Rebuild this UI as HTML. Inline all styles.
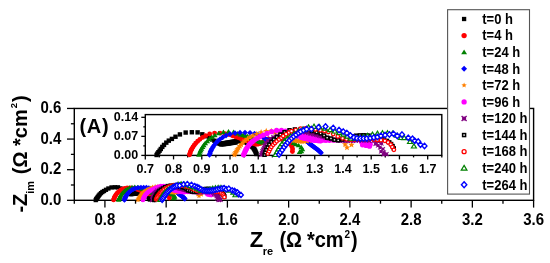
<!DOCTYPE html>
<html><head><meta charset="utf-8"><style>
html,body{margin:0;padding:0;background:#fff;}
body{width:550px;height:263px;overflow:hidden;}
svg{display:block;will-change:transform;}
</style></head><body>
<svg width="550" height="263" viewBox="0 0 550 263" font-family='"Liberation Sans", sans-serif' font-weight="bold">
<rect width="550" height="263" fill="#fff"/>
<rect x="74.3" y="108.45" width="459.3" height="91.85" fill="none" stroke="#000" stroke-width="1.4"/>
<line x1="74.3" y1="200.3" x2="74.3" y2="203.7" stroke="#000" stroke-width="1.3"/>
<line x1="104.92" y1="200.3" x2="104.92" y2="207.6" stroke="#000" stroke-width="1.3"/>
<text transform="translate(104.92,224.7) scale(1,1.12)" font-size="15" text-anchor="middle" >0.8</text>
<line x1="135.54" y1="200.3" x2="135.54" y2="203.7" stroke="#000" stroke-width="1.3"/>
<line x1="166.16" y1="200.3" x2="166.16" y2="207.6" stroke="#000" stroke-width="1.3"/>
<text transform="translate(166.16,224.7) scale(1,1.12)" font-size="15" text-anchor="middle" >1.2</text>
<line x1="196.78" y1="200.3" x2="196.78" y2="203.7" stroke="#000" stroke-width="1.3"/>
<line x1="227.4" y1="200.3" x2="227.4" y2="207.6" stroke="#000" stroke-width="1.3"/>
<text transform="translate(227.4,224.7) scale(1,1.12)" font-size="15" text-anchor="middle" >1.6</text>
<line x1="258.02" y1="200.3" x2="258.02" y2="203.7" stroke="#000" stroke-width="1.3"/>
<line x1="288.64" y1="200.3" x2="288.64" y2="207.6" stroke="#000" stroke-width="1.3"/>
<text transform="translate(288.64,224.7) scale(1,1.12)" font-size="15" text-anchor="middle" >2.0</text>
<line x1="319.26" y1="200.3" x2="319.26" y2="203.7" stroke="#000" stroke-width="1.3"/>
<line x1="349.88" y1="200.3" x2="349.88" y2="207.6" stroke="#000" stroke-width="1.3"/>
<text transform="translate(349.88,224.7) scale(1,1.12)" font-size="15" text-anchor="middle" >2.4</text>
<line x1="380.5" y1="200.3" x2="380.5" y2="203.7" stroke="#000" stroke-width="1.3"/>
<line x1="411.12" y1="200.3" x2="411.12" y2="207.6" stroke="#000" stroke-width="1.3"/>
<text transform="translate(411.12,224.7) scale(1,1.12)" font-size="15" text-anchor="middle" >2.8</text>
<line x1="441.74" y1="200.3" x2="441.74" y2="203.7" stroke="#000" stroke-width="1.3"/>
<line x1="472.36" y1="200.3" x2="472.36" y2="207.6" stroke="#000" stroke-width="1.3"/>
<text transform="translate(472.36,224.7) scale(1,1.12)" font-size="15" text-anchor="middle" >3.2</text>
<line x1="502.98" y1="200.3" x2="502.98" y2="203.7" stroke="#000" stroke-width="1.3"/>
<line x1="533.6" y1="200.3" x2="533.6" y2="207.6" stroke="#000" stroke-width="1.3"/>
<text transform="translate(533.6,224.7) scale(1,1.12)" font-size="15" text-anchor="middle" >3.6</text>
<line x1="74.3" y1="200.3" x2="67" y2="200.3" stroke="#000" stroke-width="1.3"/>
<text transform="translate(61.3,205) scale(1,1.12)" font-size="15" text-anchor="end" >0.0</text>
<line x1="74.3" y1="184.99" x2="70.9" y2="184.99" stroke="#000" stroke-width="1.3"/>
<line x1="74.3" y1="169.68" x2="67" y2="169.68" stroke="#000" stroke-width="1.3"/>
<text transform="translate(61.3,174.38) scale(1,1.12)" font-size="15" text-anchor="end" >0.2</text>
<line x1="74.3" y1="154.38" x2="70.9" y2="154.38" stroke="#000" stroke-width="1.3"/>
<line x1="74.3" y1="139.07" x2="67" y2="139.07" stroke="#000" stroke-width="1.3"/>
<text transform="translate(61.3,143.77) scale(1,1.12)" font-size="15" text-anchor="end" >0.4</text>
<line x1="74.3" y1="123.76" x2="70.9" y2="123.76" stroke="#000" stroke-width="1.3"/>
<line x1="74.3" y1="108.45" x2="67" y2="108.45" stroke="#000" stroke-width="1.3"/>
<text transform="translate(61.3,113.15) scale(1,1.12)" font-size="15" text-anchor="end" >0.6</text>
<rect x="93.59" y="197.92" width="4.3" height="4.3" fill="#000"/>
<rect x="93.99" y="197.18" width="4.3" height="4.3" fill="#000"/>
<rect x="94.57" y="196.35" width="4.3" height="4.3" fill="#000"/>
<rect x="95.21" y="195.49" width="4.3" height="4.3" fill="#000"/>
<rect x="95.86" y="194.53" width="4.3" height="4.3" fill="#000"/>
<rect x="96.68" y="193.37" width="4.3" height="4.3" fill="#000"/>
<rect x="97.61" y="192.25" width="4.3" height="4.3" fill="#000"/>
<rect x="98.84" y="190.98" width="4.3" height="4.3" fill="#000"/>
<rect x="100.21" y="189.85" width="4.3" height="4.3" fill="#000"/>
<rect x="101.88" y="188.87" width="4.3" height="4.3" fill="#000"/>
<rect x="103.83" y="187.65" width="4.3" height="4.3" fill="#000"/>
<rect x="106.23" y="186.34" width="4.3" height="4.3" fill="#000"/>
<rect x="109.35" y="185.29" width="4.3" height="4.3" fill="#000"/>
<rect x="112.7" y="185.11" width="4.3" height="4.3" fill="#000"/>
<rect x="115.82" y="185.19" width="4.3" height="4.3" fill="#000"/>
<rect x="118.36" y="186.27" width="4.3" height="4.3" fill="#000"/>
<rect x="120.63" y="187.38" width="4.3" height="4.3" fill="#000"/>
<rect x="122.24" y="188.26" width="4.3" height="4.3" fill="#000"/>
<rect x="123.73" y="189.16" width="4.3" height="4.3" fill="#000"/>
<rect x="124.96" y="189.92" width="4.3" height="4.3" fill="#000"/>
<rect x="125.98" y="190.59" width="4.3" height="4.3" fill="#000"/>
<rect x="126.74" y="191.08" width="4.3" height="4.3" fill="#000"/>
<rect x="127.46" y="191.43" width="4.3" height="4.3" fill="#000"/>
<rect x="128.12" y="191.59" width="4.3" height="4.3" fill="#000"/>
<rect x="128.73" y="191.57" width="4.3" height="4.3" fill="#000"/>
<rect x="129.32" y="191.45" width="4.3" height="4.3" fill="#000"/>
<rect x="129.92" y="191.32" width="4.3" height="4.3" fill="#000"/>
<rect x="130.57" y="191.22" width="4.3" height="4.3" fill="#000"/>
<rect x="131.24" y="191.11" width="4.3" height="4.3" fill="#000"/>
<rect x="131.93" y="190.99" width="4.3" height="4.3" fill="#000"/>
<rect x="132.61" y="190.87" width="4.3" height="4.3" fill="#000"/>
<rect x="133.3" y="190.76" width="4.3" height="4.3" fill="#000"/>
<rect x="133.98" y="190.64" width="4.3" height="4.3" fill="#000"/>
<rect x="134.67" y="190.52" width="4.3" height="4.3" fill="#000"/>
<rect x="135.33" y="190.41" width="4.3" height="4.3" fill="#000"/>
<rect x="135.97" y="190.32" width="4.3" height="4.3" fill="#000"/>
<rect x="136.57" y="190.22" width="4.3" height="4.3" fill="#000"/>
<rect x="137.37" y="190.12" width="4.3" height="4.3" fill="#000"/>
<rect x="138.21" y="190.11" width="4.3" height="4.3" fill="#000"/>
<rect x="139.1" y="190.19" width="4.3" height="4.3" fill="#000"/>
<rect x="140.02" y="190.34" width="4.3" height="4.3" fill="#000"/>
<rect x="140.93" y="190.56" width="4.3" height="4.3" fill="#000"/>
<rect x="141.86" y="190.83" width="4.3" height="4.3" fill="#000"/>
<rect x="142.77" y="191.18" width="4.3" height="4.3" fill="#000"/>
<rect x="143.61" y="191.63" width="4.3" height="4.3" fill="#000"/>
<rect x="144.4" y="192.21" width="4.3" height="4.3" fill="#000"/>
<rect x="144.94" y="192.7" width="4.3" height="4.3" fill="#000"/>
<rect x="145.43" y="193.2" width="4.3" height="4.3" fill="#000"/>
<rect x="145.86" y="193.69" width="4.3" height="4.3" fill="#000"/>
<rect x="146.33" y="194.34" width="4.3" height="4.3" fill="#000"/>
<rect x="146.64" y="194.85" width="4.3" height="4.3" fill="#000"/>
<rect x="146.94" y="195.39" width="4.3" height="4.3" fill="#000"/>
<rect x="147.23" y="196.03" width="4.3" height="4.3" fill="#000"/>
<rect x="147.51" y="196.73" width="4.3" height="4.3" fill="#000"/>
<rect x="147.75" y="197.37" width="4.3" height="4.3" fill="#000"/>
<rect x="128.5" y="191.96" width="4.3" height="4.3" fill="#000"/>
<rect x="129.21" y="191.89" width="4.3" height="4.3" fill="#000"/>
<rect x="129.95" y="191.82" width="4.3" height="4.3" fill="#000"/>
<rect x="130.73" y="191.74" width="4.3" height="4.3" fill="#000"/>
<rect x="131.44" y="191.65" width="4.3" height="4.3" fill="#000"/>
<rect x="132.12" y="191.54" width="4.3" height="4.3" fill="#000"/>
<rect x="132.79" y="191.42" width="4.3" height="4.3" fill="#000"/>
<rect x="133.47" y="191.3" width="4.3" height="4.3" fill="#000"/>
<rect x="134.16" y="191.19" width="4.3" height="4.3" fill="#000"/>
<rect x="134.93" y="191.08" width="4.3" height="4.3" fill="#000"/>
<rect x="135.7" y="190.97" width="4.3" height="4.3" fill="#000"/>
<rect x="136.34" y="190.88" width="4.3" height="4.3" fill="#000"/>
<circle cx="113.57" cy="199.96" r="2.35" fill="#f00"/>
<circle cx="113.84" cy="199.1" r="2.35" fill="#f00"/>
<circle cx="114.15" cy="198.17" r="2.35" fill="#f00"/>
<circle cx="114.47" cy="197.36" r="2.35" fill="#f00"/>
<circle cx="114.9" cy="196.53" r="2.35" fill="#f00"/>
<circle cx="115.47" cy="195.57" r="2.35" fill="#f00"/>
<circle cx="116.12" cy="194.57" r="2.35" fill="#f00"/>
<circle cx="116.95" cy="193.45" r="2.35" fill="#f00"/>
<circle cx="118.02" cy="192.32" r="2.35" fill="#f00"/>
<circle cx="119.21" cy="191.26" r="2.35" fill="#f00"/>
<circle cx="120.69" cy="190.16" r="2.35" fill="#f00"/>
<circle cx="122.33" cy="189.2" r="2.35" fill="#f00"/>
<circle cx="124.52" cy="188.27" r="2.35" fill="#f00"/>
<circle cx="127.16" cy="187.75" r="2.35" fill="#f00"/>
<circle cx="130.1" cy="187.75" r="2.35" fill="#f00"/>
<circle cx="132.82" cy="188.09" r="2.35" fill="#f00"/>
<circle cx="134.99" cy="188.57" r="2.35" fill="#f00"/>
<circle cx="136.89" cy="189.21" r="2.35" fill="#f00"/>
<circle cx="138.51" cy="189.77" r="2.35" fill="#f00"/>
<circle cx="139.87" cy="190.24" r="2.35" fill="#f00"/>
<circle cx="140.95" cy="190.62" r="2.35" fill="#f00"/>
<circle cx="142.04" cy="191" r="2.35" fill="#f00"/>
<circle cx="143.12" cy="191.39" r="2.35" fill="#f00"/>
<circle cx="143.94" cy="191.7" r="2.35" fill="#f00"/>
<circle cx="144.76" cy="192.03" r="2.35" fill="#f00"/>
<circle cx="145.62" cy="192.4" r="2.35" fill="#f00"/>
<circle cx="146.46" cy="192.78" r="2.35" fill="#f00"/>
<circle cx="147.23" cy="193.11" r="2.35" fill="#f00"/>
<circle cx="147.88" cy="193.39" r="2.35" fill="#f00"/>
<circle cx="148.61" cy="193.72" r="2.35" fill="#f00"/>
<circle cx="149.28" cy="193.94" r="2.35" fill="#f00"/>
<circle cx="149.99" cy="194.01" r="2.35" fill="#f00"/>
<circle cx="150.89" cy="193.88" r="2.35" fill="#f00"/>
<circle cx="151.8" cy="193.6" r="2.35" fill="#f00"/>
<circle cx="152.67" cy="193.21" r="2.35" fill="#f00"/>
<circle cx="153.77" cy="192.59" r="2.35" fill="#f00"/>
<circle cx="154.93" cy="191.89" r="2.35" fill="#f00"/>
<circle cx="156.18" cy="191.11" r="2.35" fill="#f00"/>
<circle cx="161.29" cy="191.35" r="2.35" fill="#f00"/>
<circle cx="164.27" cy="191.91" r="2.35" fill="#f00"/>
<circle cx="168.23" cy="194" r="2.35" fill="#f00"/>
<circle cx="169.04" cy="195.29" r="2.35" fill="#f00"/>
<circle cx="169.47" cy="196.7" r="2.35" fill="#f00"/>
<circle cx="169.36" cy="198.11" r="2.35" fill="#f00"/>
<path d="M118.72 197.34L121.47 201.84L115.97 201.84Z" fill="#008000"/>
<path d="M118.99 196.48L121.74 200.98L116.24 200.98Z" fill="#008000"/>
<path d="M119.3 195.55L122.05 200.05L116.55 200.05Z" fill="#008000"/>
<path d="M119.62 194.74L122.37 199.24L116.87 199.24Z" fill="#008000"/>
<path d="M120.05 193.9L122.8 198.4L117.3 198.4Z" fill="#008000"/>
<path d="M120.62 192.95L123.37 197.45L117.87 197.45Z" fill="#008000"/>
<path d="M121.27 191.94L124.02 196.44L118.52 196.44Z" fill="#008000"/>
<path d="M122.1 190.83L124.85 195.33L119.35 195.33Z" fill="#008000"/>
<path d="M123.17 189.7L125.92 194.2L120.42 194.2Z" fill="#008000"/>
<path d="M124.36 188.57L127.11 193.07L121.61 193.07Z" fill="#008000"/>
<path d="M125.67 187.47L128.42 191.97L122.92 191.97Z" fill="#008000"/>
<path d="M127.29 186.41L130.04 190.91L124.54 190.91Z" fill="#008000"/>
<path d="M129.44 185.3L132.19 189.8L126.69 189.8Z" fill="#008000"/>
<path d="M131.97 184.67L134.72 189.17L129.22 189.17Z" fill="#008000"/>
<path d="M134.72 184.41L137.47 188.91L131.97 188.91Z" fill="#008000"/>
<path d="M137.44 184.69L140.19 189.19L134.69 189.19Z" fill="#008000"/>
<path d="M139.62 185.44L142.37 189.94L136.87 189.94Z" fill="#008000"/>
<path d="M141.26 185.93L144.01 190.43L138.51 190.43Z" fill="#008000"/>
<path d="M142.58 186.31L145.33 190.81L139.83 190.81Z" fill="#008000"/>
<path d="M143.94 186.64L146.69 191.14L141.19 191.14Z" fill="#008000"/>
<path d="M145.07 186.96L147.82 191.46L142.32 191.46Z" fill="#008000"/>
<path d="M146.2 187.43L148.95 191.93L143.45 191.93Z" fill="#008000"/>
<path d="M147.1 187.88L149.85 192.38L144.35 192.38Z" fill="#008000"/>
<path d="M148 188.33L150.75 192.83L145.25 192.83Z" fill="#008000"/>
<path d="M148.93 188.8L151.68 193.3L146.18 193.3Z" fill="#008000"/>
<path d="M149.62 189.16L152.37 193.66L146.87 193.66Z" fill="#008000"/>
<path d="M150.29 189.49L153.04 193.99L147.54 193.99Z" fill="#008000"/>
<path d="M150.91 189.77L153.66 194.27L148.16 194.27Z" fill="#008000"/>
<path d="M151.68 190.1L154.43 194.6L148.93 194.6Z" fill="#008000"/>
<path d="M152.39 190.34L155.14 194.84L149.64 194.84Z" fill="#008000"/>
<path d="M153.17 190.4L155.92 194.9L150.42 194.9Z" fill="#008000"/>
<path d="M154.18 189.99L156.93 194.49L151.43 194.49Z" fill="#008000"/>
<path d="M155.31 189.51L158.06 194.01L152.56 194.01Z" fill="#008000"/>
<path d="M156.72 188.9L159.47 193.4L153.97 193.4Z" fill="#008000"/>
<path d="M158.26 188.4L161.01 192.9L155.51 192.9Z" fill="#008000"/>
<path d="M159.92 187.99L162.67 192.49L157.17 192.49Z" fill="#008000"/>
<path d="M161.58 187.73L164.33 192.23L158.83 192.23Z" fill="#008000"/>
<path d="M163.21 187.61L165.96 192.11L160.46 192.11Z" fill="#008000"/>
<path d="M165.03 187.69L167.78 192.19L162.28 192.19Z" fill="#008000"/>
<path d="M170.01 190.7L172.76 195.2L167.26 195.2Z" fill="#008000"/>
<path d="M171.26 191.37L174.01 195.87L168.51 195.87Z" fill="#008000"/>
<path d="M172.73 192.05L175.48 196.55L169.98 196.55Z" fill="#008000"/>
<path d="M174.14 193.12L176.89 197.62L171.39 197.62Z" fill="#008000"/>
<path d="M174.79 194.24L177.54 198.74L172.04 198.74Z" fill="#008000"/>
<path d="M174.24 195.31L176.99 199.81L171.49 199.81Z" fill="#008000"/>
<path d="M173.27 195.76L176.02 200.26L170.52 200.26Z" fill="#008000"/>
<path d="M124.42 197.14L127.24 199.96L124.42 202.78L121.6 199.96Z" fill="#00f"/>
<path d="M124.69 196.29L127.5 199.1L124.69 201.92L121.87 199.1Z" fill="#00f"/>
<path d="M124.99 195.35L127.81 198.17L124.99 200.99L122.17 198.17Z" fill="#00f"/>
<path d="M125.31 194.54L128.13 197.36L125.31 200.18L122.49 197.36Z" fill="#00f"/>
<path d="M125.74 193.71L128.56 196.53L125.74 199.35L122.92 196.53Z" fill="#00f"/>
<path d="M126.32 192.75L129.13 195.57L126.32 198.39L123.5 195.57Z" fill="#00f"/>
<path d="M126.96 191.75L129.78 194.57L126.96 197.39L124.14 194.57Z" fill="#00f"/>
<path d="M127.8 190.63L130.61 193.45L127.8 196.27L124.98 193.45Z" fill="#00f"/>
<path d="M128.87 189.5L131.68 192.32L128.87 195.14L126.05 192.32Z" fill="#00f"/>
<path d="M130.05 188.44L132.87 191.25L130.05 194.07L127.24 191.25Z" fill="#00f"/>
<path d="M131.53 187.35L134.35 190.17L131.53 192.99L128.72 190.17Z" fill="#00f"/>
<path d="M133.36 186.34L136.18 189.16L133.36 191.97L130.55 189.16Z" fill="#00f"/>
<path d="M135.58 185.46L138.4 188.28L135.58 191.1L132.77 188.28Z" fill="#00f"/>
<path d="M138.22 184.94L141.04 187.76L138.22 190.58L135.41 187.76Z" fill="#00f"/>
<path d="M140.95 184.7L143.77 187.52L140.95 190.33L138.14 187.52Z" fill="#00f"/>
<path d="M143.66 184.63L146.48 187.45L143.66 190.27L140.85 187.45Z" fill="#00f"/>
<path d="M146.38 184.77L149.2 187.59L146.38 190.41L143.56 187.59Z" fill="#00f"/>
<path d="M148.83 185.25L151.65 188.07L148.83 190.89L146.02 188.07Z" fill="#00f"/>
<path d="M150.73 185.96L153.55 188.77L150.73 191.59L147.92 188.77Z" fill="#00f"/>
<path d="M152.2 186.64L155.01 189.46L152.2 192.27L149.38 189.46Z" fill="#00f"/>
<path d="M153.47 187.29L156.29 190.11L153.47 192.92L150.66 190.11Z" fill="#00f"/>
<path d="M154.4 187.9L157.22 190.72L154.4 193.54L151.58 190.72Z" fill="#00f"/>
<path d="M155.16 188.57L157.98 191.39L155.16 194.21L152.34 191.39Z" fill="#00f"/>
<path d="M155.9 188.93L158.72 191.75L155.9 194.57L153.09 191.75Z" fill="#00f"/>
<path d="M156.72 189.13L159.53 191.95L156.72 194.76L153.9 191.95Z" fill="#00f"/>
<path d="M157.76 189.1L160.58 191.91L157.76 194.73L154.94 191.91Z" fill="#00f"/>
<path d="M158.89 188.83L161.7 191.64L158.89 194.46L156.07 191.64Z" fill="#00f"/>
<path d="M160.19 188.4L163.01 191.22L160.19 194.03L157.37 191.22Z" fill="#00f"/>
<path d="M161.56 187.97L164.37 190.79L161.56 193.61L158.74 190.79Z" fill="#00f"/>
<path d="M162.96 187.56L165.78 190.38L162.96 193.2L160.14 190.38Z" fill="#00f"/>
<path d="M164.8 187.07L167.61 189.89L164.8 192.7L161.98 189.89Z" fill="#00f"/>
<path d="M166.62 186.74L169.44 189.56L166.62 192.37L163.81 189.56Z" fill="#00f"/>
<path d="M168.46 186.58L171.28 189.4L168.46 192.21L165.65 189.4Z" fill="#00f"/>
<path d="M170.23 186.56L173.05 189.38L170.23 192.2L167.41 189.38Z" fill="#00f"/>
<path d="M171.92 186.7L174.74 189.51L171.92 192.33L169.1 189.51Z" fill="#00f"/>
<path d="M173.48 186.97L176.3 189.79L173.48 192.61L170.66 189.79Z" fill="#00f"/>
<path d="M174.75 187.41L177.57 190.23L174.75 193.04L171.93 190.23Z" fill="#00f"/>
<path d="M175.76 188L178.58 190.82L175.76 193.64L172.95 190.82Z" fill="#00f"/>
<path d="M176.47 188.53L179.28 191.35L176.47 194.17L173.65 191.35Z" fill="#00f"/>
<path d="M177.06 189.13L179.88 191.95L177.06 194.77L174.24 191.95Z" fill="#00f"/>
<path d="M177.56 189.78L180.38 192.6L177.56 195.42L174.74 192.6Z" fill="#00f"/>
<path d="M177.95 190.25L180.77 193.06L177.95 195.88L175.13 193.06Z" fill="#00f"/>
<path d="M178.4 190.67L181.21 193.48L178.4 196.3L175.58 193.48Z" fill="#00f"/>
<path d="M178.88 191.06L181.7 193.88L178.88 196.69L176.06 193.88Z" fill="#00f"/>
<path d="M179.37 191.43L182.19 194.25L179.37 197.07L176.55 194.25Z" fill="#00f"/>
<path d="M179.84 191.79L182.66 194.61L179.84 197.43L177.02 194.61Z" fill="#00f"/>
<path d="M180.28 192.14L183.09 194.96L180.28 197.78L177.46 194.96Z" fill="#00f"/>
<path d="M180.82 192.58L183.64 195.39L180.82 198.21L178 195.39Z" fill="#00f"/>
<path d="M181.35 193L184.17 195.81L181.35 198.63L178.53 195.81Z" fill="#00f"/>
<path d="M181.89 193.41L184.71 196.23L181.89 199.05L179.07 196.23Z" fill="#00f"/>
<path d="M182.43 193.81L185.25 196.62L182.43 199.44L179.61 196.62Z" fill="#00f"/>
<path d="M182.97 194.22L185.79 197.04L182.97 199.85L180.16 197.04Z" fill="#00f"/>
<path d="M183.53 194.7L186.35 197.52L183.53 200.34L180.72 197.52Z" fill="#00f"/>
<path d="M184 195.16L186.82 197.97L184 200.79L181.19 197.97Z" fill="#00f"/>
<path d="M184.45 195.6L187.27 198.42L184.45 201.23L181.63 198.42Z" fill="#00f"/>
<path d="M184.87 196.02L187.69 198.84L184.87 201.65L182.05 198.84Z" fill="#00f"/>
<path d="M137.86 197.09L138.6 198.95L140.6 199.07L139.05 200.35L139.55 202.29L137.86 201.21L136.17 202.29L136.67 200.35L135.13 199.07L137.13 198.95Z" fill="#ff8000"/>
<path d="M138.25 196.42L138.98 198.29L140.98 198.41L139.44 199.68L139.94 201.62L138.25 200.55L136.56 201.62L137.06 199.68L135.52 198.41L137.52 198.29Z" fill="#ff8000"/>
<path d="M138.7 195.66L139.43 197.53L141.43 197.65L139.88 198.92L140.39 200.86L138.7 199.79L137.01 200.86L137.51 198.92L135.96 197.65L137.96 197.53Z" fill="#ff8000"/>
<path d="M139.15 194.88L139.89 196.75L141.89 196.87L140.34 198.15L140.84 200.08L139.15 199.01L137.46 200.08L137.97 198.15L136.42 196.87L138.42 196.75Z" fill="#ff8000"/>
<path d="M139.66 194.04L140.39 195.91L142.39 196.03L140.85 197.3L141.35 199.24L139.66 198.17L137.97 199.24L138.47 197.3L136.92 196.03L138.92 195.91Z" fill="#ff8000"/>
<path d="M140.2 193.21L140.93 195.08L142.93 195.2L141.39 196.47L141.89 198.41L140.2 197.34L138.51 198.41L139.01 196.47L137.46 195.2L139.46 195.08Z" fill="#ff8000"/>
<path d="M140.89 192.22L141.63 194.08L143.63 194.2L142.08 195.48L142.58 197.42L140.89 196.34L139.2 197.42L139.7 195.48L138.16 194.2L140.16 194.08Z" fill="#ff8000"/>
<path d="M141.64 191.26L142.37 193.12L144.37 193.25L142.83 194.52L143.33 196.46L141.64 195.39L139.95 196.46L140.45 194.52L138.91 193.25L140.91 193.12Z" fill="#ff8000"/>
<path d="M142.56 190.21L143.3 192.07L145.3 192.2L143.75 193.47L144.25 195.41L142.56 194.33L140.87 195.41L141.38 193.47L139.83 192.2L141.83 192.07Z" fill="#ff8000"/>
<path d="M143.69 189.19L144.42 191.06L146.42 191.18L144.88 192.45L145.38 194.39L143.69 193.32L142 194.39L142.5 192.45L140.95 191.18L142.95 191.06Z" fill="#ff8000"/>
<path d="M144.99 188.22L145.73 190.08L147.73 190.2L146.18 191.48L146.68 193.42L144.99 192.34L143.3 193.42L143.8 191.48L142.26 190.2L144.26 190.08Z" fill="#ff8000"/>
<path d="M146.36 187.29L147.09 189.15L149.09 189.28L147.54 190.55L148.05 192.49L146.36 191.42L144.67 192.49L145.17 190.55L143.62 189.28L145.62 189.15Z" fill="#ff8000"/>
<path d="M147.98 186.34L148.71 188.21L150.71 188.33L149.17 189.6L149.67 191.54L147.98 190.47L146.29 191.54L146.79 189.6L145.24 188.33L147.24 188.21Z" fill="#ff8000"/>
<path d="M150.06 185.38L150.8 187.24L152.8 187.37L151.25 188.64L151.75 190.58L150.06 189.51L148.37 190.58L148.87 188.64L147.33 187.37L149.33 187.24Z" fill="#ff8000"/>
<path d="M152.4 184.49L153.13 186.36L155.13 186.48L153.59 187.75L154.09 189.69L152.4 188.62L150.71 189.69L151.21 187.75L149.66 186.48L151.66 186.36Z" fill="#ff8000"/>
<path d="M155.16 183.81L155.89 185.67L157.89 185.79L156.35 187.07L156.85 189.01L155.16 187.93L153.47 189.01L153.97 187.07L152.42 185.79L154.42 185.67Z" fill="#ff8000"/>
<path d="M157.9 183.71L158.63 185.58L160.63 185.7L159.09 186.98L159.59 188.92L157.9 187.84L156.21 188.92L156.71 186.98L155.16 185.7L157.16 185.58Z" fill="#ff8000"/>
<path d="M160.05 184.57L160.78 186.44L162.78 186.56L161.24 187.83L161.74 189.77L160.05 188.7L158.36 189.77L158.86 187.83L157.31 186.56L159.31 186.44Z" fill="#ff8000"/>
<path d="M162.37 185.18L163.11 187.05L165.11 187.17L163.56 188.44L164.06 190.38L162.37 189.31L160.68 190.38L161.18 188.44L159.64 187.17L161.64 187.05Z" fill="#ff8000"/>
<path d="M164.31 185.8L165.04 187.66L167.04 187.78L165.5 189.06L166 191L164.31 189.92L162.62 191L163.12 189.06L161.57 187.78L163.57 187.66Z" fill="#ff8000"/>
<path d="M165.84 186.48L166.57 188.34L168.57 188.47L167.02 189.74L167.52 191.68L165.84 190.61L164.15 191.68L164.65 189.74L163.1 188.47L165.1 188.34Z" fill="#ff8000"/>
<path d="M166.96 187.22L167.7 189.09L169.69 189.21L168.15 190.48L168.65 192.42L166.96 191.35L165.27 192.42L165.77 190.48L164.23 189.21L166.23 189.09Z" fill="#ff8000"/>
<path d="M168.06 187.91L168.8 189.78L170.8 189.9L169.25 191.17L169.75 193.11L168.06 192.04L166.37 193.11L166.87 191.17L165.33 189.9L167.33 189.78Z" fill="#ff8000"/>
<path d="M168.97 188.36L169.7 190.22L171.7 190.34L170.16 191.62L170.66 193.56L168.97 192.48L167.28 193.56L167.78 191.62L166.23 190.34L168.23 190.22Z" fill="#ff8000"/>
<path d="M169.87 188.74L170.6 190.6L172.6 190.73L171.06 192L171.56 193.94L169.87 192.86L168.18 193.94L168.68 192L167.14 190.73L169.14 190.6Z" fill="#ff8000"/>
<path d="M170.77 189.04L171.51 190.9L173.51 191.03L171.96 192.3L172.46 194.24L170.77 193.16L169.08 194.24L169.58 192.3L168.04 191.03L170.04 190.9Z" fill="#ff8000"/>
<path d="M171.68 189.24L172.41 191.1L174.41 191.23L172.87 192.5L173.37 194.44L171.68 193.36L169.99 194.44L170.49 192.5L168.94 191.23L170.94 191.1Z" fill="#ff8000"/>
<path d="M172.58 189.36L173.32 191.22L175.32 191.34L173.77 192.62L174.27 194.56L172.58 193.48L170.89 194.56L171.39 192.62L169.85 191.34L171.85 191.22Z" fill="#ff8000"/>
<path d="M173.48 189.43L174.22 191.3L176.22 191.42L174.67 192.69L175.17 194.63L173.48 193.56L171.79 194.63L172.3 192.69L170.75 191.42L172.75 191.3Z" fill="#ff8000"/>
<path d="M174.56 189.5L175.29 191.36L177.29 191.48L175.75 192.76L176.25 194.7L174.56 193.62L172.87 194.7L173.37 192.76L171.82 191.48L173.82 191.36Z" fill="#ff8000"/>
<path d="M175.68 189.48L176.42 191.34L178.42 191.46L176.87 192.74L177.37 194.68L175.68 193.6L173.99 194.68L174.49 192.74L172.95 191.46L174.95 191.34Z" fill="#ff8000"/>
<path d="M177.06 189.31L177.79 191.17L179.79 191.3L178.24 192.57L178.75 194.51L177.06 193.43L175.37 194.51L175.87 192.57L174.32 191.3L176.32 191.17Z" fill="#ff8000"/>
<path d="M178.65 189L179.38 190.86L181.38 190.99L179.83 192.26L180.34 194.2L178.65 193.12L176.96 194.2L177.46 192.26L175.91 190.99L177.91 190.86Z" fill="#ff8000"/>
<path d="M180.33 188.7L181.07 190.57L183.07 190.69L181.52 191.97L182.02 193.91L180.33 192.83L178.64 193.91L179.14 191.97L177.6 190.69L179.6 190.57Z" fill="#ff8000"/>
<path d="M182.49 188.36L183.23 190.23L185.23 190.35L183.68 191.63L184.18 193.56L182.49 192.49L180.8 193.56L181.3 191.63L179.76 190.35L181.76 190.23Z" fill="#ff8000"/>
<path d="M184.69 188.19L185.42 190.05L187.42 190.17L185.88 191.45L186.38 193.39L184.69 192.31L183 193.39L183.5 191.45L181.96 190.17L183.95 190.05Z" fill="#ff8000"/>
<path d="M186.86 188.3L187.59 190.16L189.59 190.28L188.05 191.56L188.55 193.5L186.86 192.42L185.17 193.5L185.67 191.56L184.12 190.28L186.12 190.16Z" fill="#ff8000"/>
<path d="M189.04 188.52L189.78 190.38L191.77 190.5L190.23 191.78L190.73 193.72L189.04 192.64L187.35 193.72L187.85 191.78L186.31 190.5L188.31 190.38Z" fill="#ff8000"/>
<path d="M191.5 188.83L192.24 190.69L194.24 190.82L192.69 192.09L193.19 194.03L191.5 192.96L189.81 194.03L190.31 192.09L188.77 190.82L190.77 190.69Z" fill="#ff8000"/>
<path d="M197.94 191.23L198.67 193.1L200.67 193.22L199.13 194.5L199.63 196.44L197.94 195.36L196.25 196.44L196.75 194.5L195.2 193.22L197.2 193.1Z" fill="#ff8000"/>
<path d="M198.97 193.04L199.7 194.9L201.7 195.02L200.16 196.3L200.66 198.24L198.97 197.16L197.28 198.24L197.78 196.3L196.23 195.02L198.23 194.9Z" fill="#ff8000"/>
<path d="M201.41 191.52L202.14 193.38L204.14 193.5L202.6 194.78L203.1 196.72L201.41 195.64L199.72 196.72L200.22 194.78L198.67 193.5L200.67 193.38Z" fill="#ff8000"/>
<circle cx="142.91" cy="199.96" r="2.4" fill="#f0f"/>
<circle cx="143.26" cy="199.1" r="2.4" fill="#f0f"/>
<circle cx="143.65" cy="198.17" r="2.4" fill="#f0f"/>
<circle cx="144.02" cy="197.36" r="2.4" fill="#f0f"/>
<circle cx="144.45" cy="196.53" r="2.4" fill="#f0f"/>
<circle cx="145.02" cy="195.57" r="2.4" fill="#f0f"/>
<circle cx="145.73" cy="194.57" r="2.4" fill="#f0f"/>
<circle cx="146.54" cy="193.6" r="2.4" fill="#f0f"/>
<circle cx="147.61" cy="192.59" r="2.4" fill="#f0f"/>
<circle cx="148.78" cy="191.66" r="2.4" fill="#f0f"/>
<circle cx="150.23" cy="190.68" r="2.4" fill="#f0f"/>
<circle cx="151.78" cy="189.78" r="2.4" fill="#f0f"/>
<circle cx="153.61" cy="188.86" r="2.4" fill="#f0f"/>
<circle cx="155.69" cy="187.94" r="2.4" fill="#f0f"/>
<circle cx="158.13" cy="186.95" r="2.4" fill="#f0f"/>
<circle cx="160.79" cy="186.27" r="2.4" fill="#f0f"/>
<circle cx="163.46" cy="186.15" r="2.4" fill="#f0f"/>
<circle cx="165.62" cy="186.57" r="2.4" fill="#f0f"/>
<circle cx="167.41" cy="187.09" r="2.4" fill="#f0f"/>
<circle cx="169.08" cy="187.69" r="2.4" fill="#f0f"/>
<circle cx="170.37" cy="188.2" r="2.4" fill="#f0f"/>
<circle cx="171.53" cy="188.6" r="2.4" fill="#f0f"/>
<circle cx="172.62" cy="188.83" r="2.4" fill="#f0f"/>
<circle cx="173.48" cy="188.99" r="2.4" fill="#f0f"/>
<circle cx="174.39" cy="189.21" r="2.4" fill="#f0f"/>
<circle cx="175.29" cy="189.46" r="2.4" fill="#f0f"/>
<circle cx="176.17" cy="189.69" r="2.4" fill="#f0f"/>
<circle cx="177.02" cy="189.93" r="2.4" fill="#f0f"/>
<circle cx="177.82" cy="190.11" r="2.4" fill="#f0f"/>
<circle cx="178.56" cy="190.25" r="2.4" fill="#f0f"/>
<circle cx="179.38" cy="190.39" r="2.4" fill="#f0f"/>
<circle cx="180.24" cy="190.54" r="2.4" fill="#f0f"/>
<circle cx="180.8" cy="190.63" r="2.4" fill="#f0f"/>
<circle cx="181.35" cy="190.72" r="2.4" fill="#f0f"/>
<circle cx="182.16" cy="190.86" r="2.4" fill="#f0f"/>
<circle cx="182.97" cy="191" r="2.4" fill="#f0f"/>
<circle cx="183.79" cy="191.15" r="2.4" fill="#f0f"/>
<circle cx="184.6" cy="191.29" r="2.4" fill="#f0f"/>
<circle cx="185.39" cy="191.45" r="2.4" fill="#f0f"/>
<circle cx="186.46" cy="191.66" r="2.4" fill="#f0f"/>
<circle cx="187.58" cy="191.8" r="2.4" fill="#f0f"/>
<circle cx="189.41" cy="191.82" r="2.4" fill="#f0f"/>
<circle cx="191.72" cy="191.73" r="2.4" fill="#f0f"/>
<circle cx="194.25" cy="191.58" r="2.4" fill="#f0f"/>
<circle cx="197.18" cy="191.49" r="2.4" fill="#f0f"/>
<circle cx="200.05" cy="191.52" r="2.4" fill="#f0f"/>
<circle cx="202.56" cy="191.76" r="2.4" fill="#f0f"/>
<circle cx="174.03" cy="190.23" r="2.4" fill="#f0f"/>
<circle cx="175.21" cy="190.5" r="2.4" fill="#f0f"/>
<circle cx="176.25" cy="190.74" r="2.4" fill="#f0f"/>
<circle cx="177.19" cy="190.94" r="2.4" fill="#f0f"/>
<circle cx="178.09" cy="191.14" r="2.4" fill="#f0f"/>
<circle cx="179" cy="191.32" r="2.4" fill="#f0f"/>
<circle cx="179.67" cy="191.45" r="2.4" fill="#f0f"/>
<circle cx="180.35" cy="191.57" r="2.4" fill="#f0f"/>
<circle cx="181.03" cy="191.69" r="2.4" fill="#f0f"/>
<circle cx="181.71" cy="191.8" r="2.4" fill="#f0f"/>
<circle cx="182.39" cy="191.89" r="2.4" fill="#f0f"/>
<circle cx="183.16" cy="191.96" r="2.4" fill="#f0f"/>
<circle cx="183.93" cy="192.02" r="2.4" fill="#f0f"/>
<circle cx="184.74" cy="192.07" r="2.4" fill="#f0f"/>
<circle cx="206.83" cy="192.65" r="2.4" fill="#f0f"/>
<circle cx="208.45" cy="192.93" r="2.4" fill="#f0f"/>
<circle cx="210.08" cy="193.32" r="2.4" fill="#f0f"/>
<circle cx="211.55" cy="194" r="2.4" fill="#f0f"/>
<circle cx="207.37" cy="194.33" r="2.4" fill="#f0f"/>
<circle cx="209.27" cy="194.73" r="2.4" fill="#f0f"/>
<circle cx="211.17" cy="195.12" r="2.4" fill="#f0f"/>
<path d="M150.3 197.76L154.7 202.16M154.7 197.76L150.3 202.16M152.5 198.2L152.5 201.72M150.74 199.96L154.26 199.96" stroke="#800080" stroke-width="1.14" fill="none"/>
<path d="M150.58 196.82L154.98 201.22M154.98 196.82L150.58 201.22M152.78 197.26L152.78 200.78M151.02 199.02L154.54 199.02" stroke="#800080" stroke-width="1.14" fill="none"/>
<path d="M150.89 195.8L155.29 200.2M155.29 195.8L150.89 200.2M153.09 196.24L153.09 199.76M151.33 198L154.85 198" stroke="#800080" stroke-width="1.14" fill="none"/>
<path d="M151.24 194.79L155.64 199.19M155.64 194.79L151.24 199.19M153.44 195.23L153.44 198.75M151.68 196.99L155.2 196.99" stroke="#800080" stroke-width="1.14" fill="none"/>
<path d="M151.66 193.65L156.06 198.05M156.06 193.65L151.66 198.05M153.86 194.09L153.86 197.61M152.1 195.85L155.62 195.85" stroke="#800080" stroke-width="1.14" fill="none"/>
<path d="M152.13 192.32L156.53 196.72M156.53 192.32L152.13 196.72M154.33 192.76L154.33 196.28M152.57 194.52L156.09 194.52" stroke="#800080" stroke-width="1.14" fill="none"/>
<path d="M152.77 191.09L157.17 195.49M157.17 191.09L152.77 195.49M154.97 191.53L154.97 195.05M153.21 193.29L156.73 193.29" stroke="#800080" stroke-width="1.14" fill="none"/>
<path d="M153.8 189.86L158.2 194.26M158.2 189.86L153.8 194.26M156 190.3L156 193.82M154.24 192.06L157.76 192.06" stroke="#800080" stroke-width="1.14" fill="none"/>
<path d="M155.19 188.71L159.59 193.11M159.59 188.71L155.19 193.11M157.39 189.15L157.39 192.67M155.63 190.91L159.15 190.91" stroke="#800080" stroke-width="1.14" fill="none"/>
<path d="M156.87 187.8L161.27 192.2M161.27 187.8L156.87 192.2M159.07 188.24L159.07 191.76M157.31 190L160.83 190" stroke="#800080" stroke-width="1.14" fill="none"/>
<path d="M158.72 186.98L163.12 191.38M163.12 186.98L158.72 191.38M160.92 187.42L160.92 190.94M159.16 189.18L162.68 189.18" stroke="#800080" stroke-width="1.14" fill="none"/>
<path d="M161.24 185.97L165.64 190.37M165.64 185.97L161.24 190.37M163.44 186.41L163.44 189.93M161.68 188.17L165.2 188.17" stroke="#800080" stroke-width="1.14" fill="none"/>
<path d="M163.96 185.11L168.36 189.51M168.36 185.11L163.96 189.51M166.16 185.55L166.16 189.07M164.4 187.31L167.92 187.31" stroke="#800080" stroke-width="1.14" fill="none"/>
<path d="M166.68 184.56L171.08 188.96M171.08 184.56L166.68 188.96M168.88 185L168.88 188.52M167.12 186.76L170.64 186.76" stroke="#800080" stroke-width="1.14" fill="none"/>
<path d="M169.12 184.47L173.52 188.87M173.52 184.47L169.12 188.87M171.32 184.91L171.32 188.43M169.56 186.67L173.08 186.67" stroke="#800080" stroke-width="1.14" fill="none"/>
<path d="M171.28 184.66L175.68 189.06M175.68 184.66L171.28 189.06M173.48 185.1L173.48 188.62M171.72 186.86L175.24 186.86" stroke="#800080" stroke-width="1.14" fill="none"/>
<path d="M172.91 184.94L177.31 189.34M177.31 184.94L172.91 189.34M175.11 185.38L175.11 188.9M173.35 187.14L176.87 187.14" stroke="#800080" stroke-width="1.14" fill="none"/>
<path d="M174.27 185.21L178.67 189.61M178.67 185.21L174.27 189.61M176.47 185.65L176.47 189.17M174.71 187.41L178.23 187.41" stroke="#800080" stroke-width="1.14" fill="none"/>
<path d="M175.62 185.48L180.02 189.88M180.02 185.48L175.62 189.88M177.82 185.92L177.82 189.44M176.06 187.68L179.58 187.68" stroke="#800080" stroke-width="1.14" fill="none"/>
<path d="M176.71 185.71L181.11 190.11M181.11 185.71L176.71 190.11M178.91 186.15L178.91 189.67M177.15 187.91L180.67 187.91" stroke="#800080" stroke-width="1.14" fill="none"/>
<path d="M177.52 185.89L181.92 190.29M181.92 185.89L177.52 190.29M179.72 186.33L179.72 189.85M177.96 188.09L181.48 188.09" stroke="#800080" stroke-width="1.14" fill="none"/>
<path d="M178.33 186.08L182.73 190.48M182.73 186.08L178.33 190.48M180.53 186.52L180.53 190.04M178.77 188.28L182.29 188.28" stroke="#800080" stroke-width="1.14" fill="none"/>
<path d="M179.15 186.27L183.55 190.67M183.55 186.27L179.15 190.67M181.35 186.71L181.35 190.23M179.59 188.47L183.11 188.47" stroke="#800080" stroke-width="1.14" fill="none"/>
<path d="M179.96 186.47L184.36 190.87M184.36 186.47L179.96 190.87M182.16 186.91L182.16 190.43M180.4 188.67L183.92 188.67" stroke="#800080" stroke-width="1.14" fill="none"/>
<path d="M180.77 186.7L185.17 191.1M185.17 186.7L180.77 191.1M182.97 187.14L182.97 190.66M181.21 188.9L184.73 188.9" stroke="#800080" stroke-width="1.14" fill="none"/>
<path d="M181.59 186.94L185.99 191.34M185.99 186.94L181.59 191.34M183.79 187.38L183.79 190.9M182.03 189.14L185.55 189.14" stroke="#800080" stroke-width="1.14" fill="none"/>
<path d="M182.4 187.2L186.8 191.6M186.8 187.2L182.4 191.6M184.6 187.64L184.6 191.16M182.84 189.4L186.36 189.4" stroke="#800080" stroke-width="1.14" fill="none"/>
<path d="M183.21 187.46L187.61 191.86M187.61 187.46L183.21 191.86M185.41 187.9L185.41 191.42M183.65 189.66L187.17 189.66" stroke="#800080" stroke-width="1.14" fill="none"/>
<path d="M184.03 187.71L188.43 192.11M188.43 187.71L184.03 192.11M186.23 188.15L186.23 191.67M184.47 189.91L187.99 189.91" stroke="#800080" stroke-width="1.14" fill="none"/>
<path d="M184.84 187.96L189.24 192.36M189.24 187.96L184.84 192.36M187.04 188.4L187.04 191.92M185.28 190.16L188.8 190.16" stroke="#800080" stroke-width="1.14" fill="none"/>
<path d="M185.65 188.21L190.05 192.61M190.05 188.21L185.65 192.61M187.85 188.65L187.85 192.17M186.09 190.41L189.61 190.41" stroke="#800080" stroke-width="1.14" fill="none"/>
<path d="M186.47 188.44L190.87 192.84M190.87 188.44L186.47 192.84M188.67 188.88L188.67 192.4M186.91 190.64L190.43 190.64" stroke="#800080" stroke-width="1.14" fill="none"/>
<path d="M187.28 188.66L191.68 193.06M191.68 188.66L187.28 193.06M189.48 189.1L189.48 192.62M187.72 190.86L191.24 190.86" stroke="#800080" stroke-width="1.14" fill="none"/>
<path d="M188.09 188.86L192.49 193.26M192.49 188.86L188.09 193.26M190.29 189.3L190.29 192.82M188.53 191.06L192.05 191.06" stroke="#800080" stroke-width="1.14" fill="none"/>
<path d="M188.91 189.05L193.31 193.45M193.31 189.05L188.91 193.45M191.11 189.49L191.11 193.01M189.35 191.25L192.87 191.25" stroke="#800080" stroke-width="1.14" fill="none"/>
<path d="M189.72 189.22L194.12 193.62M194.12 189.22L189.72 193.62M191.92 189.66L191.92 193.18M190.16 191.42L193.68 191.42" stroke="#800080" stroke-width="1.14" fill="none"/>
<path d="M190.53 189.37L194.93 193.77M194.93 189.37L190.53 193.77M192.73 189.81L192.73 193.33M190.97 191.57L194.49 191.57" stroke="#800080" stroke-width="1.14" fill="none"/>
<path d="M191.32 189.5L195.72 193.9M195.72 189.5L191.32 193.9M193.52 189.94L193.52 193.46M191.76 191.7L195.28 191.7" stroke="#800080" stroke-width="1.14" fill="none"/>
<path d="M192.12 189.62L196.52 194.02M196.52 189.62L192.12 194.02M194.32 190.06L194.32 193.58M192.56 191.82L196.08 191.82" stroke="#800080" stroke-width="1.14" fill="none"/>
<path d="M192.94 189.72L197.34 194.12M197.34 189.72L192.94 194.12M195.14 190.16L195.14 193.68M193.38 191.92L196.9 191.92" stroke="#800080" stroke-width="1.14" fill="none"/>
<path d="M193.81 189.79L198.21 194.19M198.21 189.79L193.81 194.19M196.01 190.23L196.01 193.75M194.25 191.99L197.77 191.99" stroke="#800080" stroke-width="1.14" fill="none"/>
<path d="M194.72 189.84L199.12 194.24M199.12 189.84L194.72 194.24M196.92 190.28L196.92 193.8M195.16 192.04L198.68 192.04" stroke="#800080" stroke-width="1.14" fill="none"/>
<path d="M195.98 189.87L200.38 194.27M200.38 189.87L195.98 194.27M198.18 190.31L198.18 193.83M196.42 192.07L199.94 192.07" stroke="#800080" stroke-width="1.14" fill="none"/>
<path d="M197.31 189.88L201.71 194.28M201.71 189.88L197.31 194.28M199.51 190.32L199.51 193.84M197.75 192.08L201.27 192.08" stroke="#800080" stroke-width="1.14" fill="none"/>
<path d="M198.71 189.86L203.11 194.26M203.11 189.86L198.71 194.26M200.91 190.3L200.91 193.82M199.15 192.06L202.67 192.06" stroke="#800080" stroke-width="1.14" fill="none"/>
<path d="M200.18 189.82L204.58 194.22M204.58 189.82L200.18 194.22M202.38 190.26L202.38 193.78M200.62 192.02L204.14 192.02" stroke="#800080" stroke-width="1.14" fill="none"/>
<path d="M201.65 189.77L206.05 194.17M206.05 189.77L201.65 194.17M203.85 190.21L203.85 193.73M202.09 191.97L205.61 191.97" stroke="#800080" stroke-width="1.14" fill="none"/>
<path d="M203.13 189.72L207.53 194.12M207.53 189.72L203.13 194.12M205.33 190.16L205.33 193.68M203.57 191.92L207.09 191.92" stroke="#800080" stroke-width="1.14" fill="none"/>
<path d="M204.62 189.67L209.02 194.07M209.02 189.67L204.62 194.07M206.82 190.11L206.82 193.63M205.06 191.87L208.58 191.87" stroke="#800080" stroke-width="1.14" fill="none"/>
<path d="M205.98 189.66L210.38 194.06M210.38 189.66L205.98 194.06M208.18 190.1L208.18 193.62M206.42 191.86L209.94 191.86" stroke="#800080" stroke-width="1.14" fill="none"/>
<path d="M207.27 189.72L211.67 194.12M211.67 189.72L207.27 194.12M209.47 190.16L209.47 193.68M207.71 191.92L211.23 191.92" stroke="#800080" stroke-width="1.14" fill="none"/>
<path d="M208.68 189.83L213.08 194.23M213.08 189.83L208.68 194.23M210.88 190.27L210.88 193.79M209.12 192.03L212.64 192.03" stroke="#800080" stroke-width="1.14" fill="none"/>
<path d="M211.13 190L215.53 194.4M215.53 190L211.13 194.4M213.33 190.44L213.33 193.96M211.57 192.2L215.09 192.2" stroke="#800080" stroke-width="1.14" fill="none"/>
<path d="M212.49 190.84L216.89 195.24M216.89 190.84L212.49 195.24M214.69 191.28L214.69 194.8M212.93 193.04L216.45 193.04" stroke="#800080" stroke-width="1.14" fill="none"/>
<path d="M214.12 190.28L218.52 194.68M218.52 190.28L214.12 194.68M216.32 190.72L216.32 194.24M214.56 192.48L218.08 192.48" stroke="#800080" stroke-width="1.14" fill="none"/>
<path d="M215.47 191.4L219.87 195.8M219.87 191.4L215.47 195.8M217.67 191.84L217.67 195.36M215.91 193.6L219.43 193.6" stroke="#800080" stroke-width="1.14" fill="none"/>
<path d="M213.57 192.53L217.97 196.93M217.97 192.53L213.57 196.93M215.77 192.97L215.77 196.49M214.01 194.73L217.53 194.73" stroke="#800080" stroke-width="1.14" fill="none"/>
<path d="M212.22 191.68L216.62 196.08M216.62 191.68L212.22 196.08M214.42 192.12L214.42 195.64M212.66 193.88L216.18 193.88" stroke="#800080" stroke-width="1.14" fill="none"/>
<path d="M214.66 193.65L219.06 198.05M219.06 193.65L214.66 198.05M216.86 194.09L216.86 197.61M215.1 195.85L218.62 195.85" stroke="#800080" stroke-width="1.14" fill="none"/>
<path d="M216.29 194.5L220.69 198.9M220.69 194.5L216.29 198.9M218.49 194.94L218.49 198.46M216.73 196.7L220.25 196.7" stroke="#800080" stroke-width="1.14" fill="none"/>
<path d="M215.2 195.91L219.6 200.31M219.6 195.91L215.2 200.31M217.4 196.35L217.4 199.87M215.64 198.11L219.16 198.11" stroke="#800080" stroke-width="1.14" fill="none"/>
<path d="M216.83 196.47L221.23 200.87M221.23 196.47L216.83 200.87M219.03 196.91L219.03 200.43M217.27 198.67L220.79 198.67" stroke="#800080" stroke-width="1.14" fill="none"/>
<path d="M218.18 197.42L222.58 201.82M222.58 197.42L218.18 201.82M220.38 197.86L220.38 201.38M218.62 199.62L222.14 199.62" stroke="#800080" stroke-width="1.14" fill="none"/>
<path d="M216.56 197.59L220.96 201.99M220.96 197.59L216.56 201.99M218.76 198.03L218.76 201.55M217 199.79L220.52 199.79" stroke="#800080" stroke-width="1.14" fill="none"/>
<rect x="152.79" y="198.46" width="3" height="3" fill="#fff" stroke="#000" stroke-width="1.5"/>
<rect x="153.18" y="197.07" width="3" height="3" fill="#fff" stroke="#000" stroke-width="1.5"/>
<rect x="153.72" y="195.66" width="3" height="3" fill="#fff" stroke="#000" stroke-width="1.5"/>
<rect x="154.44" y="194.18" width="3" height="3" fill="#fff" stroke="#000" stroke-width="1.5"/>
<rect x="155.33" y="192.71" width="3" height="3" fill="#fff" stroke="#000" stroke-width="1.5"/>
<rect x="156.48" y="191.2" width="3" height="3" fill="#fff" stroke="#000" stroke-width="1.5"/>
<rect x="157.82" y="189.83" width="3" height="3" fill="#fff" stroke="#000" stroke-width="1.5"/>
<rect x="159.39" y="188.49" width="3" height="3" fill="#fff" stroke="#000" stroke-width="1.5"/>
<rect x="161.32" y="187.09" width="3" height="3" fill="#fff" stroke="#000" stroke-width="1.5"/>
<rect x="163.58" y="185.74" width="3" height="3" fill="#fff" stroke="#000" stroke-width="1.5"/>
<rect x="166.29" y="184.62" width="3" height="3" fill="#fff" stroke="#000" stroke-width="1.5"/>
<rect x="169.2" y="184.17" width="3" height="3" fill="#fff" stroke="#000" stroke-width="1.5"/>
<rect x="172.34" y="184.07" width="3" height="3" fill="#fff" stroke="#000" stroke-width="1.5"/>
<rect x="175.35" y="184.46" width="3" height="3" fill="#fff" stroke="#000" stroke-width="1.5"/>
<rect x="178.36" y="185.12" width="3" height="3" fill="#fff" stroke="#000" stroke-width="1.5"/>
<rect x="180.95" y="185.76" width="3" height="3" fill="#fff" stroke="#000" stroke-width="1.5"/>
<rect x="183.15" y="186.42" width="3" height="3" fill="#fff" stroke="#000" stroke-width="1.5"/>
<rect x="185.05" y="187.6" width="3" height="3" fill="#fff" stroke="#000" stroke-width="1.5"/>
<rect x="186.71" y="188.84" width="3" height="3" fill="#fff" stroke="#000" stroke-width="1.5"/>
<rect x="188.78" y="189.29" width="3" height="3" fill="#fff" stroke="#000" stroke-width="1.5"/>
<rect x="190.68" y="190.06" width="3" height="3" fill="#fff" stroke="#000" stroke-width="1.5"/>
<rect x="192.69" y="190.33" width="3" height="3" fill="#fff" stroke="#000" stroke-width="1.5"/>
<rect x="194.76" y="189.85" width="3" height="3" fill="#fff" stroke="#000" stroke-width="1.5"/>
<rect x="196.61" y="189.32" width="3" height="3" fill="#fff" stroke="#000" stroke-width="1.5"/>
<rect x="198.56" y="188.72" width="3" height="3" fill="#fff" stroke="#000" stroke-width="1.5"/>
<rect x="200.49" y="188.09" width="3" height="3" fill="#fff" stroke="#000" stroke-width="1.5"/>
<rect x="202.43" y="187.68" width="3" height="3" fill="#fff" stroke="#000" stroke-width="1.5"/>
<rect x="204.42" y="187.51" width="3" height="3" fill="#fff" stroke="#000" stroke-width="1.5"/>
<rect x="206.46" y="187.43" width="3" height="3" fill="#fff" stroke="#000" stroke-width="1.5"/>
<rect x="208.45" y="187.56" width="3" height="3" fill="#fff" stroke="#000" stroke-width="1.5"/>
<rect x="210.44" y="187.73" width="3" height="3" fill="#fff" stroke="#000" stroke-width="1.5"/>
<rect x="212.37" y="187.94" width="3" height="3" fill="#fff" stroke="#000" stroke-width="1.5"/>
<rect x="214.31" y="188.5" width="3" height="3" fill="#fff" stroke="#000" stroke-width="1.5"/>
<rect x="215.9" y="189.12" width="3" height="3" fill="#fff" stroke="#000" stroke-width="1.5"/>
<rect x="217.57" y="189.8" width="3" height="3" fill="#fff" stroke="#000" stroke-width="1.5"/>
<rect x="219.16" y="190.61" width="3" height="3" fill="#fff" stroke="#000" stroke-width="1.5"/>
<rect x="220.38" y="191.43" width="3" height="3" fill="#fff" stroke="#000" stroke-width="1.5"/>
<rect x="221.4" y="192.39" width="3" height="3" fill="#fff" stroke="#000" stroke-width="1.5"/>
<rect x="222.21" y="193.54" width="3" height="3" fill="#fff" stroke="#000" stroke-width="1.5"/>
<rect x="222.84" y="194.83" width="3" height="3" fill="#fff" stroke="#000" stroke-width="1.5"/>
<circle cx="156.08" cy="199.29" r="1.7" fill="#fff" stroke="#f00" stroke-width="1.3"/>
<circle cx="156.73" cy="197.99" r="1.7" fill="#fff" stroke="#f00" stroke-width="1.3"/>
<circle cx="157.33" cy="196.64" r="1.7" fill="#fff" stroke="#f00" stroke-width="1.3"/>
<circle cx="157.98" cy="195.52" r="1.7" fill="#fff" stroke="#f00" stroke-width="1.3"/>
<circle cx="158.95" cy="194.33" r="1.7" fill="#fff" stroke="#f00" stroke-width="1.3"/>
<circle cx="159.93" cy="193.38" r="1.7" fill="#fff" stroke="#f00" stroke-width="1.3"/>
<circle cx="160.85" cy="192.36" r="1.7" fill="#fff" stroke="#f00" stroke-width="1.3"/>
<circle cx="162.15" cy="191.35" r="1.7" fill="#fff" stroke="#f00" stroke-width="1.3"/>
<circle cx="163.4" cy="190.39" r="1.7" fill="#fff" stroke="#f00" stroke-width="1.3"/>
<circle cx="164.38" cy="189.38" r="1.7" fill="#fff" stroke="#f00" stroke-width="1.3"/>
<circle cx="165.95" cy="188.37" r="1.7" fill="#fff" stroke="#f00" stroke-width="1.3"/>
<circle cx="167.52" cy="187.41" r="1.7" fill="#fff" stroke="#f00" stroke-width="1.3"/>
<circle cx="168.88" cy="186.68" r="1.7" fill="#fff" stroke="#f00" stroke-width="1.3"/>
<circle cx="171.15" cy="185.95" r="1.7" fill="#fff" stroke="#f00" stroke-width="1.3"/>
<circle cx="173.81" cy="185.22" r="1.7" fill="#fff" stroke="#f00" stroke-width="1.3"/>
<circle cx="176.47" cy="185.05" r="1.7" fill="#fff" stroke="#f00" stroke-width="1.3"/>
<circle cx="179.18" cy="185.22" r="1.7" fill="#fff" stroke="#f00" stroke-width="1.3"/>
<circle cx="181.89" cy="185.72" r="1.7" fill="#fff" stroke="#f00" stroke-width="1.3"/>
<circle cx="184.6" cy="186.17" r="1.7" fill="#fff" stroke="#f00" stroke-width="1.3"/>
<circle cx="186.77" cy="186.57" r="1.7" fill="#fff" stroke="#f00" stroke-width="1.3"/>
<circle cx="188.83" cy="187.13" r="1.7" fill="#fff" stroke="#f00" stroke-width="1.3"/>
<circle cx="191.48" cy="188.31" r="1.7" fill="#fff" stroke="#f00" stroke-width="1.3"/>
<circle cx="193.98" cy="189.61" r="1.7" fill="#fff" stroke="#f00" stroke-width="1.3"/>
<circle cx="196.58" cy="190.68" r="1.7" fill="#fff" stroke="#f00" stroke-width="1.3"/>
<circle cx="198.7" cy="191.24" r="1.7" fill="#fff" stroke="#f00" stroke-width="1.3"/>
<circle cx="200.86" cy="191.52" r="1.7" fill="#fff" stroke="#f00" stroke-width="1.3"/>
<circle cx="203.03" cy="191.41" r="1.7" fill="#fff" stroke="#f00" stroke-width="1.3"/>
<circle cx="205.2" cy="191.18" r="1.7" fill="#fff" stroke="#f00" stroke-width="1.3"/>
<circle cx="207.37" cy="190.96" r="1.7" fill="#fff" stroke="#f00" stroke-width="1.3"/>
<circle cx="209.54" cy="190.9" r="1.7" fill="#fff" stroke="#f00" stroke-width="1.3"/>
<circle cx="211.71" cy="191.07" r="1.7" fill="#fff" stroke="#f00" stroke-width="1.3"/>
<circle cx="213.61" cy="191.35" r="1.7" fill="#fff" stroke="#f00" stroke-width="1.3"/>
<circle cx="215.5" cy="191.63" r="1.7" fill="#fff" stroke="#f00" stroke-width="1.3"/>
<circle cx="217.4" cy="191.75" r="1.7" fill="#fff" stroke="#f00" stroke-width="1.3"/>
<circle cx="219.52" cy="192.08" r="1.7" fill="#fff" stroke="#f00" stroke-width="1.3"/>
<circle cx="221.25" cy="192.98" r="1.7" fill="#fff" stroke="#f00" stroke-width="1.3"/>
<circle cx="222.66" cy="194.17" r="1.7" fill="#fff" stroke="#f00" stroke-width="1.3"/>
<circle cx="223.53" cy="195.63" r="1.7" fill="#fff" stroke="#f00" stroke-width="1.3"/>
<circle cx="224.39" cy="197.15" r="1.7" fill="#fff" stroke="#f00" stroke-width="1.3"/>
<path d="M160.2 197.68L162.48 201.52L157.92 201.52Z" fill="#fff" stroke="#008000" stroke-width="1.2"/>
<path d="M160.99 196.12L163.27 199.96L158.71 199.96Z" fill="#fff" stroke="#008000" stroke-width="1.2"/>
<path d="M161.81 194.55L164.09 198.39L159.53 198.39Z" fill="#fff" stroke="#008000" stroke-width="1.2"/>
<path d="M162.68 193.08L164.96 196.92L160.4 196.92Z" fill="#fff" stroke="#008000" stroke-width="1.2"/>
<path d="M163.73 191.6L166.01 195.44L161.45 195.44Z" fill="#fff" stroke="#008000" stroke-width="1.2"/>
<path d="M165.06 190.09L167.34 193.93L162.78 193.93Z" fill="#fff" stroke="#008000" stroke-width="1.2"/>
<path d="M166.59 188.67L168.87 192.51L164.31 192.51Z" fill="#fff" stroke="#008000" stroke-width="1.2"/>
<path d="M168.3 187.26L170.58 191.1L166.02 191.1Z" fill="#fff" stroke="#008000" stroke-width="1.2"/>
<path d="M170.19 185.89L172.47 189.73L167.91 189.73Z" fill="#fff" stroke="#008000" stroke-width="1.2"/>
<path d="M172.56 184.48L174.84 188.32L170.28 188.32Z" fill="#fff" stroke="#008000" stroke-width="1.2"/>
<path d="M175.1 183.33L177.38 187.17L172.82 187.17Z" fill="#fff" stroke="#008000" stroke-width="1.2"/>
<path d="M178.09 182.21L180.37 186.05L175.81 186.05Z" fill="#fff" stroke="#008000" stroke-width="1.2"/>
<path d="M181.07 181.82L183.35 185.66L178.79 185.66Z" fill="#fff" stroke="#008000" stroke-width="1.2"/>
<path d="M184.06 182.05L186.34 185.89L181.78 185.89Z" fill="#fff" stroke="#008000" stroke-width="1.2"/>
<path d="M187.01 182.86L189.29 186.7L184.73 186.7Z" fill="#fff" stroke="#008000" stroke-width="1.2"/>
<path d="M189.83 183.7L192.11 187.54L187.55 187.54Z" fill="#fff" stroke="#008000" stroke-width="1.2"/>
<path d="M192.34 184.47L194.62 188.31L190.06 188.31Z" fill="#fff" stroke="#008000" stroke-width="1.2"/>
<path d="M194.77 185.31L197.05 189.15L192.49 189.15Z" fill="#fff" stroke="#008000" stroke-width="1.2"/>
<path d="M197 186.22L199.28 190.06L194.72 190.06Z" fill="#fff" stroke="#008000" stroke-width="1.2"/>
<path d="M199.08 187.32L201.36 191.16L196.8 191.16Z" fill="#fff" stroke="#008000" stroke-width="1.2"/>
<path d="M201 188.45L203.28 192.29L198.72 192.29Z" fill="#fff" stroke="#008000" stroke-width="1.2"/>
<path d="M203.3 188.68L205.58 192.52L201.02 192.52Z" fill="#fff" stroke="#008000" stroke-width="1.2"/>
<path d="M205.56 188.33L207.84 192.17L203.28 192.17Z" fill="#fff" stroke="#008000" stroke-width="1.2"/>
<path d="M207.82 187.67L210.1 191.51L205.54 191.51Z" fill="#fff" stroke="#008000" stroke-width="1.2"/>
<path d="M210.08 187.01L212.36 190.85L207.8 190.85Z" fill="#fff" stroke="#008000" stroke-width="1.2"/>
<path d="M212.76 186.29L215.04 190.13L210.48 190.13Z" fill="#fff" stroke="#008000" stroke-width="1.2"/>
<path d="M215.46 185.77L217.74 189.61L213.18 189.61Z" fill="#fff" stroke="#008000" stroke-width="1.2"/>
<path d="M218.21 185.53L220.49 189.37L215.93 189.37Z" fill="#fff" stroke="#008000" stroke-width="1.2"/>
<path d="M220.93 185.54L223.21 189.38L218.65 189.38Z" fill="#fff" stroke="#008000" stroke-width="1.2"/>
<path d="M223.66 185.81L225.94 189.65L221.38 189.65Z" fill="#fff" stroke="#008000" stroke-width="1.2"/>
<path d="M226.09 186.86L228.37 190.7L223.81 190.7Z" fill="#fff" stroke="#008000" stroke-width="1.2"/>
<path d="M228.24 188.11L230.52 191.95L225.96 191.95Z" fill="#fff" stroke="#008000" stroke-width="1.2"/>
<path d="M229.98 188.17L232.26 192.01L227.7 192.01Z" fill="#fff" stroke="#008000" stroke-width="1.2"/>
<path d="M233.12 190.37L235.4 194.21L230.84 194.21Z" fill="#fff" stroke="#008000" stroke-width="1.2"/>
<path d="M235.24 192.9L237.52 196.74L232.96 196.74Z" fill="#fff" stroke="#008000" stroke-width="1.2"/>
<path d="M162.15 197.19L164.49 199.79L162.15 202.39L159.81 199.79Z" fill="#fff" stroke="#00f" stroke-width="1.4"/>
<path d="M162.86 195.96L165.2 198.56L162.86 201.16L160.52 198.56Z" fill="#fff" stroke="#00f" stroke-width="1.4"/>
<path d="M163.83 194.66L166.17 197.26L163.83 199.86L161.49 197.26Z" fill="#fff" stroke="#00f" stroke-width="1.4"/>
<path d="M164.92 193.03L167.26 195.63L164.92 198.23L162.58 195.63Z" fill="#fff" stroke="#00f" stroke-width="1.4"/>
<path d="M165.84 191.73L168.18 194.33L165.84 196.93L163.5 194.33Z" fill="#fff" stroke="#00f" stroke-width="1.4"/>
<path d="M166.82 190.44L169.16 193.04L166.82 195.64L164.48 193.04Z" fill="#fff" stroke="#00f" stroke-width="1.4"/>
<path d="M167.79 189.2L170.13 191.8L167.79 194.4L165.45 191.8Z" fill="#fff" stroke="#00f" stroke-width="1.4"/>
<path d="M168.98 188.02L171.32 190.62L168.98 193.22L166.64 190.62Z" fill="#fff" stroke="#00f" stroke-width="1.4"/>
<path d="M170.12 187.01L172.46 189.61L170.12 192.21L167.78 189.61Z" fill="#fff" stroke="#00f" stroke-width="1.4"/>
<path d="M171.32 186.11L173.66 188.71L171.32 191.31L168.98 188.71Z" fill="#fff" stroke="#00f" stroke-width="1.4"/>
<path d="M172.73 185.09L175.07 187.69L172.73 190.29L170.39 187.69Z" fill="#fff" stroke="#00f" stroke-width="1.4"/>
<path d="M173.92 184.31L176.26 186.91L173.92 189.51L171.58 186.91Z" fill="#fff" stroke="#00f" stroke-width="1.4"/>
<path d="M175.44 183.52L177.78 186.12L175.44 188.72L173.1 186.12Z" fill="#fff" stroke="#00f" stroke-width="1.4"/>
<path d="M177.06 182.9L179.4 185.5L177.06 188.1L174.72 185.5Z" fill="#fff" stroke="#00f" stroke-width="1.4"/>
<path d="M179.67 182.9L182.01 185.5L179.67 188.1L177.33 185.5Z" fill="#fff" stroke="#00f" stroke-width="1.4"/>
<path d="M183.51 181.83L185.85 184.43L183.51 187.03L181.17 184.43Z" fill="#fff" stroke="#00f" stroke-width="1.4"/>
<path d="M187.31 181.43L189.65 184.03L187.31 186.63L184.97 184.03Z" fill="#fff" stroke="#00f" stroke-width="1.4"/>
<path d="M191.48 182.22L193.82 184.82L191.48 187.42L189.14 184.82Z" fill="#fff" stroke="#00f" stroke-width="1.4"/>
<path d="M194.68 183.46L197.02 186.06L194.68 188.66L192.34 186.06Z" fill="#fff" stroke="#00f" stroke-width="1.4"/>
<path d="M196.96 184.31L199.3 186.91L196.96 189.51L194.62 186.91Z" fill="#fff" stroke="#00f" stroke-width="1.4"/>
<path d="M198.91 185.15L201.25 187.75L198.91 190.35L196.57 187.75Z" fill="#fff" stroke="#00f" stroke-width="1.4"/>
<path d="M200.81 186.5L203.15 189.1L200.81 191.7L198.47 189.1Z" fill="#fff" stroke="#00f" stroke-width="1.4"/>
<path d="M202.71 187.63L205.05 190.23L202.71 192.83L200.37 190.23Z" fill="#fff" stroke="#00f" stroke-width="1.4"/>
<path d="M204.39 188.08L206.73 190.68L204.39 193.28L202.05 190.68Z" fill="#fff" stroke="#00f" stroke-width="1.4"/>
<path d="M206.18 188.19L208.52 190.79L206.18 193.39L203.84 190.79Z" fill="#fff" stroke="#00f" stroke-width="1.4"/>
<path d="M207.91 188.19L210.25 190.79L207.91 193.39L205.57 190.79Z" fill="#fff" stroke="#00f" stroke-width="1.4"/>
<path d="M209.7 188.13L212.04 190.73L209.7 193.33L207.36 190.73Z" fill="#fff" stroke="#00f" stroke-width="1.4"/>
<path d="M211.6 187.91L213.94 190.51L211.6 193.11L209.26 190.51Z" fill="#fff" stroke="#00f" stroke-width="1.4"/>
<path d="M213.55 187.63L215.89 190.23L213.55 192.83L211.21 190.23Z" fill="#fff" stroke="#00f" stroke-width="1.4"/>
<path d="M215.45 187.34L217.79 189.94L215.45 192.54L213.11 189.94Z" fill="#fff" stroke="#00f" stroke-width="1.4"/>
<path d="M217.35 186.67L219.69 189.27L217.35 191.87L215.01 189.27Z" fill="#fff" stroke="#00f" stroke-width="1.4"/>
<path d="M219.62 186.28L221.96 188.88L219.62 191.48L217.28 188.88Z" fill="#fff" stroke="#00f" stroke-width="1.4"/>
<path d="M221.96 185.88L224.3 188.48L221.96 191.08L219.62 188.48Z" fill="#fff" stroke="#00f" stroke-width="1.4"/>
<path d="M224.18 185.54L226.52 188.14L224.18 190.74L221.84 188.14Z" fill="#fff" stroke="#00f" stroke-width="1.4"/>
<path d="M226.24 186.73L228.58 189.33L226.24 191.93L223.9 189.33Z" fill="#fff" stroke="#00f" stroke-width="1.4"/>
<path d="M228.79 185.99L231.13 188.59L228.79 191.19L226.45 188.59Z" fill="#fff" stroke="#00f" stroke-width="1.4"/>
<path d="M232.2 187.79L234.54 190.39L232.2 192.99L229.86 190.39Z" fill="#fff" stroke="#00f" stroke-width="1.4"/>
<path d="M234.48 188.3L236.82 190.9L234.48 193.5L232.14 190.9Z" fill="#fff" stroke="#00f" stroke-width="1.4"/>
<path d="M235.73 189.48L238.07 192.08L235.73 194.68L233.39 192.08Z" fill="#fff" stroke="#00f" stroke-width="1.4"/>
<path d="M237.57 189.88L239.91 192.48L237.57 195.08L235.23 192.48Z" fill="#fff" stroke="#00f" stroke-width="1.4"/>
<path d="M238.82 191.73L241.16 194.33L238.82 196.93L236.48 194.33Z" fill="#fff" stroke="#00f" stroke-width="1.4"/>
<path d="M240.99 192.35L243.33 194.95L240.99 197.55L238.65 194.95Z" fill="#fff" stroke="#00f" stroke-width="1.4"/>
<rect x="145.3" y="114.6" width="296.5" height="40.8" fill="#fff" stroke="#000" stroke-width="1.4"/>
<line x1="145.3" y1="155.4" x2="145.3" y2="159.4" stroke="#000" stroke-width="1.3"/>
<text x="145.3" y="172.8" font-size="12.5" text-anchor="middle" >0.7</text>
<line x1="159.42" y1="155.4" x2="159.42" y2="157.4" stroke="#000" stroke-width="1.3"/>
<line x1="173.54" y1="155.4" x2="173.54" y2="159.4" stroke="#000" stroke-width="1.3"/>
<text x="173.54" y="172.8" font-size="12.5" text-anchor="middle" >0.8</text>
<line x1="187.66" y1="155.4" x2="187.66" y2="157.4" stroke="#000" stroke-width="1.3"/>
<line x1="201.78" y1="155.4" x2="201.78" y2="159.4" stroke="#000" stroke-width="1.3"/>
<text x="201.78" y="172.8" font-size="12.5" text-anchor="middle" >0.9</text>
<line x1="215.9" y1="155.4" x2="215.9" y2="157.4" stroke="#000" stroke-width="1.3"/>
<line x1="230.01" y1="155.4" x2="230.01" y2="159.4" stroke="#000" stroke-width="1.3"/>
<text x="230.01" y="172.8" font-size="12.5" text-anchor="middle" >1.0</text>
<line x1="244.13" y1="155.4" x2="244.13" y2="157.4" stroke="#000" stroke-width="1.3"/>
<line x1="258.25" y1="155.4" x2="258.25" y2="159.4" stroke="#000" stroke-width="1.3"/>
<text x="258.25" y="172.8" font-size="12.5" text-anchor="middle" >1.1</text>
<line x1="272.37" y1="155.4" x2="272.37" y2="157.4" stroke="#000" stroke-width="1.3"/>
<line x1="286.49" y1="155.4" x2="286.49" y2="159.4" stroke="#000" stroke-width="1.3"/>
<text x="286.49" y="172.8" font-size="12.5" text-anchor="middle" >1.2</text>
<line x1="300.61" y1="155.4" x2="300.61" y2="157.4" stroke="#000" stroke-width="1.3"/>
<line x1="314.73" y1="155.4" x2="314.73" y2="159.4" stroke="#000" stroke-width="1.3"/>
<text x="314.73" y="172.8" font-size="12.5" text-anchor="middle" >1.3</text>
<line x1="328.85" y1="155.4" x2="328.85" y2="157.4" stroke="#000" stroke-width="1.3"/>
<line x1="342.97" y1="155.4" x2="342.97" y2="159.4" stroke="#000" stroke-width="1.3"/>
<text x="342.97" y="172.8" font-size="12.5" text-anchor="middle" >1.4</text>
<line x1="357.09" y1="155.4" x2="357.09" y2="157.4" stroke="#000" stroke-width="1.3"/>
<line x1="371.2" y1="155.4" x2="371.2" y2="159.4" stroke="#000" stroke-width="1.3"/>
<text x="371.2" y="172.8" font-size="12.5" text-anchor="middle" >1.5</text>
<line x1="385.32" y1="155.4" x2="385.32" y2="157.4" stroke="#000" stroke-width="1.3"/>
<line x1="399.44" y1="155.4" x2="399.44" y2="159.4" stroke="#000" stroke-width="1.3"/>
<text x="399.44" y="172.8" font-size="12.5" text-anchor="middle" >1.6</text>
<line x1="413.56" y1="155.4" x2="413.56" y2="157.4" stroke="#000" stroke-width="1.3"/>
<line x1="427.68" y1="155.4" x2="427.68" y2="159.4" stroke="#000" stroke-width="1.3"/>
<text x="427.68" y="172.8" font-size="12.5" text-anchor="middle" >1.7</text>
<line x1="441.8" y1="155.4" x2="441.8" y2="157.4" stroke="#000" stroke-width="1.3"/>
<line x1="145.3" y1="155.4" x2="141.3" y2="155.4" stroke="#000" stroke-width="1.3"/>
<text x="138.2" y="159" font-size="12.5" text-anchor="end" >0.00</text>
<line x1="145.3" y1="145.88" x2="143.3" y2="145.88" stroke="#000" stroke-width="1.3"/>
<line x1="145.3" y1="136.36" x2="141.3" y2="136.36" stroke="#000" stroke-width="1.3"/>
<text x="138.2" y="139.96" font-size="12.5" text-anchor="end" >0.07</text>
<line x1="145.3" y1="126.84" x2="143.3" y2="126.84" stroke="#000" stroke-width="1.3"/>
<line x1="145.3" y1="117.32" x2="141.3" y2="117.32" stroke="#000" stroke-width="1.3"/>
<text x="138.2" y="120.92" font-size="12.5" text-anchor="end" >0.14</text>
<rect x="154.4" y="152.8" width="4.4" height="4.4" fill="#000"/>
<rect x="155.15" y="151.47" width="4.4" height="4.4" fill="#000"/>
<rect x="156.22" y="150.01" width="4.4" height="4.4" fill="#000"/>
<rect x="157.4" y="148.47" width="4.4" height="4.4" fill="#000"/>
<rect x="158.6" y="146.77" width="4.4" height="4.4" fill="#000"/>
<rect x="160.1" y="144.7" width="4.4" height="4.4" fill="#000"/>
<rect x="161.82" y="142.72" width="4.4" height="4.4" fill="#000"/>
<rect x="164.1" y="140.45" width="4.4" height="4.4" fill="#000"/>
<rect x="166.61" y="138.45" width="4.4" height="4.4" fill="#000"/>
<rect x="169.7" y="136.7" width="4.4" height="4.4" fill="#000"/>
<rect x="173.3" y="134.54" width="4.4" height="4.4" fill="#000"/>
<rect x="177.72" y="132.22" width="4.4" height="4.4" fill="#000"/>
<rect x="183.47" y="130.35" width="4.4" height="4.4" fill="#000"/>
<rect x="189.66" y="130.04" width="4.4" height="4.4" fill="#000"/>
<rect x="195.41" y="130.17" width="4.4" height="4.4" fill="#000"/>
<rect x="200.1" y="132.1" width="4.4" height="4.4" fill="#000"/>
<rect x="204.29" y="134.06" width="4.4" height="4.4" fill="#000"/>
<rect x="207.26" y="135.62" width="4.4" height="4.4" fill="#000"/>
<rect x="209.99" y="137.23" width="4.4" height="4.4" fill="#000"/>
<rect x="212.26" y="138.57" width="4.4" height="4.4" fill="#000"/>
<rect x="214.14" y="139.78" width="4.4" height="4.4" fill="#000"/>
<rect x="215.54" y="140.63" width="4.4" height="4.4" fill="#000"/>
<rect x="216.88" y="141.26" width="4.4" height="4.4" fill="#000"/>
<rect x="218.1" y="141.54" width="4.4" height="4.4" fill="#000"/>
<rect x="219.22" y="141.5" width="4.4" height="4.4" fill="#000"/>
<rect x="220.3" y="141.29" width="4.4" height="4.4" fill="#000"/>
<rect x="221.41" y="141.06" width="4.4" height="4.4" fill="#000"/>
<rect x="222.6" y="140.89" width="4.4" height="4.4" fill="#000"/>
<rect x="223.85" y="140.7" width="4.4" height="4.4" fill="#000"/>
<rect x="225.11" y="140.48" width="4.4" height="4.4" fill="#000"/>
<rect x="226.38" y="140.27" width="4.4" height="4.4" fill="#000"/>
<rect x="227.64" y="140.06" width="4.4" height="4.4" fill="#000"/>
<rect x="228.91" y="139.85" width="4.4" height="4.4" fill="#000"/>
<rect x="230.17" y="139.64" width="4.4" height="4.4" fill="#000"/>
<rect x="231.4" y="139.46" width="4.4" height="4.4" fill="#000"/>
<rect x="232.57" y="139.29" width="4.4" height="4.4" fill="#000"/>
<rect x="233.69" y="139.11" width="4.4" height="4.4" fill="#000"/>
<rect x="235.15" y="138.93" width="4.4" height="4.4" fill="#000"/>
<rect x="236.7" y="138.91" width="4.4" height="4.4" fill="#000"/>
<rect x="238.35" y="139.05" width="4.4" height="4.4" fill="#000"/>
<rect x="240.04" y="139.32" width="4.4" height="4.4" fill="#000"/>
<rect x="241.72" y="139.71" width="4.4" height="4.4" fill="#000"/>
<rect x="243.43" y="140.2" width="4.4" height="4.4" fill="#000"/>
<rect x="245.12" y="140.82" width="4.4" height="4.4" fill="#000"/>
<rect x="246.67" y="141.62" width="4.4" height="4.4" fill="#000"/>
<rect x="248.11" y="142.65" width="4.4" height="4.4" fill="#000"/>
<rect x="249.11" y="143.52" width="4.4" height="4.4" fill="#000"/>
<rect x="250.02" y="144.41" width="4.4" height="4.4" fill="#000"/>
<rect x="250.81" y="145.27" width="4.4" height="4.4" fill="#000"/>
<rect x="251.69" y="146.44" width="4.4" height="4.4" fill="#000"/>
<rect x="252.26" y="147.34" width="4.4" height="4.4" fill="#000"/>
<rect x="252.8" y="148.3" width="4.4" height="4.4" fill="#000"/>
<rect x="253.34" y="149.43" width="4.4" height="4.4" fill="#000"/>
<rect x="253.86" y="150.68" width="4.4" height="4.4" fill="#000"/>
<rect x="254.29" y="151.81" width="4.4" height="4.4" fill="#000"/>
<rect x="218.8" y="142.2" width="4.4" height="4.4" fill="#000"/>
<rect x="220.1" y="142.08" width="4.4" height="4.4" fill="#000"/>
<rect x="221.46" y="141.95" width="4.4" height="4.4" fill="#000"/>
<rect x="222.91" y="141.81" width="4.4" height="4.4" fill="#000"/>
<rect x="224.22" y="141.64" width="4.4" height="4.4" fill="#000"/>
<rect x="225.47" y="141.45" width="4.4" height="4.4" fill="#000"/>
<rect x="226.72" y="141.24" width="4.4" height="4.4" fill="#000"/>
<rect x="227.97" y="141.03" width="4.4" height="4.4" fill="#000"/>
<rect x="229.23" y="140.84" width="4.4" height="4.4" fill="#000"/>
<rect x="230.65" y="140.63" width="4.4" height="4.4" fill="#000"/>
<rect x="232.07" y="140.44" width="4.4" height="4.4" fill="#000"/>
<rect x="233.26" y="140.27" width="4.4" height="4.4" fill="#000"/>
<circle cx="189.5" cy="154.8" r="2.45" fill="#f00"/>
<circle cx="189.99" cy="153.27" r="2.45" fill="#f00"/>
<circle cx="190.55" cy="151.62" r="2.45" fill="#f00"/>
<circle cx="191.15" cy="150.18" r="2.45" fill="#f00"/>
<circle cx="191.94" cy="148.7" r="2.45" fill="#f00"/>
<circle cx="193" cy="147" r="2.45" fill="#f00"/>
<circle cx="194.19" cy="145.22" r="2.45" fill="#f00"/>
<circle cx="195.73" cy="143.23" r="2.45" fill="#f00"/>
<circle cx="197.7" cy="141.22" r="2.45" fill="#f00"/>
<circle cx="199.9" cy="139.33" r="2.45" fill="#f00"/>
<circle cx="202.63" cy="137.39" r="2.45" fill="#f00"/>
<circle cx="205.65" cy="135.67" r="2.45" fill="#f00"/>
<circle cx="209.69" cy="134.02" r="2.45" fill="#f00"/>
<circle cx="214.57" cy="133.1" r="2.45" fill="#f00"/>
<circle cx="219.98" cy="133.11" r="2.45" fill="#f00"/>
<circle cx="225" cy="133.7" r="2.45" fill="#f00"/>
<circle cx="229" cy="134.56" r="2.45" fill="#f00"/>
<circle cx="232.5" cy="135.7" r="2.45" fill="#f00"/>
<circle cx="235.5" cy="136.69" r="2.45" fill="#f00"/>
<circle cx="238" cy="137.52" r="2.45" fill="#f00"/>
<circle cx="240" cy="138.2" r="2.45" fill="#f00"/>
<circle cx="242" cy="138.88" r="2.45" fill="#f00"/>
<circle cx="244" cy="139.57" r="2.45" fill="#f00"/>
<circle cx="245.5" cy="140.11" r="2.45" fill="#f00"/>
<circle cx="247.02" cy="140.71" r="2.45" fill="#f00"/>
<circle cx="248.6" cy="141.37" r="2.45" fill="#f00"/>
<circle cx="250.15" cy="142.03" r="2.45" fill="#f00"/>
<circle cx="251.57" cy="142.63" r="2.45" fill="#f00"/>
<circle cx="252.78" cy="143.12" r="2.45" fill="#f00"/>
<circle cx="254.12" cy="143.7" r="2.45" fill="#f00"/>
<circle cx="255.36" cy="144.1" r="2.45" fill="#f00"/>
<circle cx="256.67" cy="144.22" r="2.45" fill="#f00"/>
<circle cx="258.33" cy="143.99" r="2.45" fill="#f00"/>
<circle cx="260" cy="143.5" r="2.45" fill="#f00"/>
<circle cx="261.62" cy="142.81" r="2.45" fill="#f00"/>
<circle cx="263.63" cy="141.71" r="2.45" fill="#f00"/>
<circle cx="265.78" cy="140.46" r="2.45" fill="#f00"/>
<circle cx="268.08" cy="139.06" r="2.45" fill="#f00"/>
<circle cx="277.5" cy="139.5" r="2.45" fill="#f00"/>
<circle cx="283" cy="140.5" r="2.45" fill="#f00"/>
<circle cx="290.3" cy="144.2" r="2.45" fill="#f00"/>
<circle cx="291.8" cy="146.5" r="2.45" fill="#f00"/>
<circle cx="292.6" cy="149" r="2.45" fill="#f00"/>
<circle cx="292.4" cy="151.5" r="2.45" fill="#f00"/>
<path d="M199 152.07L201.86 156.75L196.14 156.75Z" fill="#008000"/>
<path d="M199.49 150.54L202.35 155.22L196.63 155.22Z" fill="#008000"/>
<path d="M200.05 148.89L202.91 153.57L197.19 153.57Z" fill="#008000"/>
<path d="M200.65 147.45L203.51 152.13L197.79 152.13Z" fill="#008000"/>
<path d="M201.44 145.97L204.3 150.65L198.58 150.65Z" fill="#008000"/>
<path d="M202.5 144.27L205.36 148.95L199.64 148.95Z" fill="#008000"/>
<path d="M203.69 142.49L206.55 147.17L200.83 147.17Z" fill="#008000"/>
<path d="M205.23 140.5L208.09 145.18L202.37 145.18Z" fill="#008000"/>
<path d="M207.2 138.51L210.06 143.19L204.34 143.19Z" fill="#008000"/>
<path d="M209.4 136.49L212.26 141.17L206.54 141.17Z" fill="#008000"/>
<path d="M211.81 134.54L214.67 139.22L208.95 139.22Z" fill="#008000"/>
<path d="M214.8 132.65L217.66 137.33L211.94 137.33Z" fill="#008000"/>
<path d="M218.76 130.69L221.62 135.37L215.9 135.37Z" fill="#008000"/>
<path d="M223.42 129.57L226.28 134.25L220.56 134.25Z" fill="#008000"/>
<path d="M228.5 129.11L231.36 133.79L225.64 133.79Z" fill="#008000"/>
<path d="M233.52 129.6L236.38 134.28L230.66 134.28Z" fill="#008000"/>
<path d="M237.54 130.93L240.4 135.61L234.68 135.61Z" fill="#008000"/>
<path d="M240.56 131.8L243.42 136.48L237.7 136.48Z" fill="#008000"/>
<path d="M243 132.47L245.86 137.15L240.14 137.15Z" fill="#008000"/>
<path d="M245.5 133.06L248.36 137.74L242.64 137.74Z" fill="#008000"/>
<path d="M247.58 133.63L250.44 138.31L244.72 138.31Z" fill="#008000"/>
<path d="M249.67 134.46L252.53 139.14L246.81 139.14Z" fill="#008000"/>
<path d="M251.33 135.26L254.19 139.94L248.47 139.94Z" fill="#008000"/>
<path d="M253 136.07L255.86 140.75L250.14 140.75Z" fill="#008000"/>
<path d="M254.7 136.9L257.56 141.58L251.84 141.58Z" fill="#008000"/>
<path d="M255.99 137.54L258.85 142.22L253.13 142.22Z" fill="#008000"/>
<path d="M257.22 138.13L260.08 142.81L254.36 142.81Z" fill="#008000"/>
<path d="M258.37 138.62L261.23 143.3L255.51 143.3Z" fill="#008000"/>
<path d="M259.79 139.21L262.65 143.89L256.93 143.89Z" fill="#008000"/>
<path d="M261.09 139.63L263.95 144.31L258.23 144.31Z" fill="#008000"/>
<path d="M262.53 139.75L265.39 144.43L259.67 144.43Z" fill="#008000"/>
<path d="M264.4 139.02L267.26 143.7L261.54 143.7Z" fill="#008000"/>
<path d="M266.48 138.16L269.34 142.84L263.62 142.84Z" fill="#008000"/>
<path d="M269.09 137.09L271.95 141.77L266.23 141.77Z" fill="#008000"/>
<path d="M271.93 136.2L274.79 140.88L269.07 140.88Z" fill="#008000"/>
<path d="M274.99 135.46L277.85 140.14L272.13 140.14Z" fill="#008000"/>
<path d="M278.04 134.99L280.9 139.67L275.18 139.67Z" fill="#008000"/>
<path d="M281.06 134.78L283.92 139.46L278.2 139.46Z" fill="#008000"/>
<path d="M284.41 134.93L287.27 139.61L281.55 139.61Z" fill="#008000"/>
<path d="M293.6 140.27L296.46 144.95L290.74 144.95Z" fill="#008000"/>
<path d="M295.9 141.47L298.76 146.15L293.04 146.15Z" fill="#008000"/>
<path d="M298.6 142.67L301.46 147.35L295.74 147.35Z" fill="#008000"/>
<path d="M301.2 144.57L304.06 149.25L298.34 149.25Z" fill="#008000"/>
<path d="M302.4 146.57L305.26 151.25L299.54 151.25Z" fill="#008000"/>
<path d="M301.4 148.47L304.26 153.15L298.54 153.15Z" fill="#008000"/>
<path d="M299.6 149.27L302.46 153.95L296.74 153.95Z" fill="#008000"/>
<path d="M209.5 151.93L212.38 154.8L209.5 157.68L206.62 154.8Z" fill="#00f"/>
<path d="M209.99 150.4L212.87 153.27L209.99 156.15L207.12 153.27Z" fill="#00f"/>
<path d="M210.55 148.74L213.43 151.62L210.55 154.49L207.68 151.62Z" fill="#00f"/>
<path d="M211.15 147.31L214.02 150.18L211.15 153.06L208.27 150.18Z" fill="#00f"/>
<path d="M211.94 145.82L214.81 148.7L211.94 151.57L209.06 148.7Z" fill="#00f"/>
<path d="M213 144.12L215.88 147L213 149.88L210.12 147Z" fill="#00f"/>
<path d="M214.19 142.34L217.06 145.22L214.19 148.09L211.31 145.22Z" fill="#00f"/>
<path d="M215.73 140.36L218.61 143.23L215.73 146.11L212.86 143.23Z" fill="#00f"/>
<path d="M217.7 138.34L220.58 141.22L217.7 144.09L214.83 141.22Z" fill="#00f"/>
<path d="M219.9 136.45L222.77 139.33L219.9 142.2L217.02 139.33Z" fill="#00f"/>
<path d="M222.63 134.52L225.5 137.4L222.63 140.27L219.75 137.4Z" fill="#00f"/>
<path d="M226 132.72L228.88 135.6L226 138.47L223.12 135.6Z" fill="#00f"/>
<path d="M230.1 131.17L232.97 134.04L230.1 136.92L227.22 134.04Z" fill="#00f"/>
<path d="M234.96 130.25L237.84 133.12L234.96 136L232.09 133.12Z" fill="#00f"/>
<path d="M240 129.81L242.88 132.69L240 135.56L237.12 132.69Z" fill="#00f"/>
<path d="M245 129.69L247.88 132.57L245 135.44L242.12 132.57Z" fill="#00f"/>
<path d="M250.01 129.94L252.89 132.82L250.01 135.69L247.14 132.82Z" fill="#00f"/>
<path d="M254.54 130.8L257.41 133.67L254.54 136.55L251.66 133.67Z" fill="#00f"/>
<path d="M258.04 132.05L260.91 134.92L258.04 137.8L255.16 134.92Z" fill="#00f"/>
<path d="M260.74 133.26L263.61 136.13L260.74 139.01L257.86 136.13Z" fill="#00f"/>
<path d="M263.09 134.41L265.97 137.29L263.09 140.16L260.22 137.29Z" fill="#00f"/>
<path d="M264.8 135.5L267.67 138.38L264.8 141.25L261.92 138.38Z" fill="#00f"/>
<path d="M266.2 136.69L269.08 139.56L266.2 142.44L263.33 139.56Z" fill="#00f"/>
<path d="M267.57 137.34L270.45 140.21L267.57 143.09L264.7 140.21Z" fill="#00f"/>
<path d="M269.07 137.68L271.95 140.55L269.07 143.43L266.2 140.55Z" fill="#00f"/>
<path d="M271 137.62L273.88 140.5L271 143.38L268.12 140.5Z" fill="#00f"/>
<path d="M273.07 137.14L275.95 140.02L273.07 142.89L270.2 140.02Z" fill="#00f"/>
<path d="M275.48 136.38L278.36 139.26L275.48 142.13L272.61 139.26Z" fill="#00f"/>
<path d="M278 135.62L280.88 138.5L278 141.38L275.12 138.5Z" fill="#00f"/>
<path d="M280.59 134.9L283.47 137.78L280.59 140.65L277.72 137.78Z" fill="#00f"/>
<path d="M283.98 134.02L286.85 136.89L283.98 139.77L281.1 136.89Z" fill="#00f"/>
<path d="M287.34 133.44L290.22 136.31L287.34 139.19L284.47 136.31Z" fill="#00f"/>
<path d="M290.74 133.15L293.61 136.03L290.74 138.9L287.86 136.03Z" fill="#00f"/>
<path d="M294 133.12L296.88 136L294 138.88L291.12 136Z" fill="#00f"/>
<path d="M297.11 133.36L299.99 136.23L297.11 139.11L294.24 136.23Z" fill="#00f"/>
<path d="M299.99 133.85L302.86 136.73L299.99 139.6L297.11 136.73Z" fill="#00f"/>
<path d="M302.34 134.63L305.21 137.5L302.34 140.38L299.46 137.5Z" fill="#00f"/>
<path d="M304.2 135.68L307.08 138.55L304.2 141.43L301.33 138.55Z" fill="#00f"/>
<path d="M305.5 136.62L308.38 139.5L305.5 142.38L302.62 139.5Z" fill="#00f"/>
<path d="M306.59 137.69L309.47 140.56L306.59 143.44L303.72 140.56Z" fill="#00f"/>
<path d="M307.52 138.84L310.39 141.71L307.52 144.59L304.64 141.71Z" fill="#00f"/>
<path d="M308.24 139.67L311.11 142.54L308.24 145.42L305.36 142.54Z" fill="#00f"/>
<path d="M309.06 140.41L311.94 143.29L309.06 146.16L306.19 143.29Z" fill="#00f"/>
<path d="M309.95 141.11L312.82 143.99L309.95 146.86L307.07 143.99Z" fill="#00f"/>
<path d="M310.85 141.78L313.73 144.65L310.85 147.53L307.98 144.65Z" fill="#00f"/>
<path d="M311.72 142.42L314.6 145.29L311.72 148.17L308.85 145.29Z" fill="#00f"/>
<path d="M312.53 143.03L315.4 145.91L312.53 148.78L309.65 145.91Z" fill="#00f"/>
<path d="M313.53 143.81L316.41 146.68L313.53 149.56L310.66 146.68Z" fill="#00f"/>
<path d="M314.51 144.55L317.38 147.43L314.51 150.3L311.63 147.43Z" fill="#00f"/>
<path d="M315.5 145.29L318.38 148.17L315.5 151.04L312.62 148.17Z" fill="#00f"/>
<path d="M316.5 145.99L319.38 148.87L316.5 151.74L313.62 148.87Z" fill="#00f"/>
<path d="M317.5 146.72L320.38 149.6L317.5 152.47L314.62 149.6Z" fill="#00f"/>
<path d="M318.53 147.59L321.41 150.46L318.53 153.34L315.66 150.46Z" fill="#00f"/>
<path d="M319.4 148.39L322.28 151.27L319.4 154.14L316.53 151.27Z" fill="#00f"/>
<path d="M320.22 149.18L323.1 152.05L320.22 154.93L317.35 152.05Z" fill="#00f"/>
<path d="M321 149.93L323.88 152.8L321 155.68L318.12 152.8Z" fill="#00f"/>
<path d="M234.3 151.47L235.15 153.63L237.47 153.77L235.68 155.25L236.26 157.5L234.3 156.25L232.34 157.5L232.92 155.25L231.13 153.77L233.45 153.63Z" fill="#ff8000"/>
<path d="M235.01 150.28L235.86 152.45L238.18 152.59L236.39 154.07L236.97 156.32L235.01 155.07L233.05 156.32L233.63 154.07L231.84 152.59L234.16 152.45Z" fill="#ff8000"/>
<path d="M235.84 148.93L236.69 151.09L239.01 151.24L237.21 152.71L237.8 154.96L235.84 153.72L233.88 154.96L234.46 152.71L232.66 151.24L234.98 151.09Z" fill="#ff8000"/>
<path d="M236.68 147.55L237.53 149.71L239.85 149.85L238.06 151.33L238.64 153.58L236.68 152.34L234.72 153.58L235.3 151.33L233.51 149.85L235.83 149.71Z" fill="#ff8000"/>
<path d="M237.61 146.06L238.46 148.22L240.78 148.36L238.99 149.84L239.57 152.09L237.61 150.84L235.65 152.09L236.23 149.84L234.44 148.36L236.76 148.22Z" fill="#ff8000"/>
<path d="M238.61 144.58L239.46 146.74L241.78 146.88L239.98 148.36L240.57 150.61L238.61 149.36L236.65 150.61L237.23 148.36L235.43 146.88L237.75 146.74Z" fill="#ff8000"/>
<path d="M239.89 142.81L240.74 144.97L243.06 145.11L241.27 146.59L241.85 148.84L239.89 147.59L237.93 148.84L238.51 146.59L236.72 145.11L239.04 144.97Z" fill="#ff8000"/>
<path d="M241.27 141.11L242.12 143.27L244.44 143.42L242.64 144.9L243.23 147.15L241.27 145.9L239.31 147.15L239.89 144.9L238.09 143.42L240.41 143.27Z" fill="#ff8000"/>
<path d="M242.97 139.24L243.82 141.41L246.14 141.55L244.35 143.03L244.93 145.28L242.97 144.03L241.01 145.28L241.59 143.03L239.8 141.55L242.12 141.41Z" fill="#ff8000"/>
<path d="M245.04 137.44L245.9 139.6L248.22 139.74L246.42 141.22L247 143.47L245.04 142.22L243.08 143.47L243.67 141.22L241.87 139.74L244.19 139.6Z" fill="#ff8000"/>
<path d="M247.45 135.7L248.3 137.87L250.62 138.01L248.83 139.49L249.41 141.74L247.45 140.49L245.49 141.74L246.07 139.49L244.28 138.01L246.6 137.87Z" fill="#ff8000"/>
<path d="M249.96 134.06L250.81 136.22L253.13 136.36L251.34 137.84L251.92 140.09L249.96 138.84L248 140.09L248.58 137.84L246.79 136.36L249.11 136.22Z" fill="#ff8000"/>
<path d="M252.95 132.38L253.81 134.54L256.13 134.68L254.33 136.16L254.91 138.41L252.95 137.16L250.99 138.41L251.57 136.16L249.78 134.68L252.1 134.54Z" fill="#ff8000"/>
<path d="M256.8 130.66L257.65 132.83L259.97 132.97L258.18 134.45L258.76 136.7L256.8 135.45L254.84 136.7L255.42 134.45L253.63 132.97L255.95 132.83Z" fill="#ff8000"/>
<path d="M261.11 129.08L261.96 131.25L264.28 131.39L262.49 132.87L263.07 135.12L261.11 133.87L259.15 135.12L259.73 132.87L257.94 131.39L260.26 131.25Z" fill="#ff8000"/>
<path d="M266.2 127.86L267.05 130.03L269.37 130.17L267.58 131.65L268.16 133.9L266.2 132.65L264.24 133.9L264.82 131.65L263.03 130.17L265.35 130.03Z" fill="#ff8000"/>
<path d="M271.25 127.7L272.1 129.87L274.42 130.01L272.63 131.49L273.21 133.74L271.25 132.49L269.29 133.74L269.87 131.49L268.08 130.01L270.4 129.87Z" fill="#ff8000"/>
<path d="M275.22 129.23L276.07 131.39L278.39 131.53L276.6 133.01L277.18 135.26L275.22 134.01L273.26 135.26L273.84 133.01L272.04 131.53L274.36 131.39Z" fill="#ff8000"/>
<path d="M279.5 130.31L280.36 132.47L282.67 132.62L280.88 134.09L281.46 136.34L279.5 135.1L277.54 136.34L278.12 134.09L276.33 132.62L278.65 132.47Z" fill="#ff8000"/>
<path d="M283.07 131.41L283.93 133.57L286.25 133.71L284.45 135.19L285.03 137.44L283.07 136.19L281.11 137.44L281.7 135.19L279.9 133.71L282.22 133.57Z" fill="#ff8000"/>
<path d="M285.89 132.62L286.74 134.78L289.06 134.92L287.27 136.4L287.85 138.65L285.89 137.4L283.93 138.65L284.51 136.4L282.72 134.92L285.04 134.78Z" fill="#ff8000"/>
<path d="M287.97 133.94L288.82 136.1L291.14 136.24L289.35 137.72L289.93 139.97L287.97 138.72L286.01 139.97L286.59 137.72L284.8 136.24L287.12 136.1Z" fill="#ff8000"/>
<path d="M290 135.16L290.85 137.33L293.17 137.47L291.38 138.95L291.96 141.2L290 139.95L288.04 141.2L288.62 138.95L286.83 137.47L289.15 137.33Z" fill="#ff8000"/>
<path d="M291.67 135.95L292.52 138.12L294.84 138.26L293.05 139.74L293.63 141.99L291.67 140.74L289.71 141.99L290.29 139.74L288.49 138.26L290.81 138.12Z" fill="#ff8000"/>
<path d="M293.33 136.63L294.19 138.79L296.51 138.94L294.71 140.41L295.29 142.66L293.33 141.42L291.37 142.66L291.95 140.41L290.16 138.94L292.48 138.79Z" fill="#ff8000"/>
<path d="M295 137.16L295.85 139.33L298.17 139.47L296.38 140.95L296.96 143.2L295 141.95L293.04 143.2L293.62 140.95L291.83 139.47L294.15 139.33Z" fill="#ff8000"/>
<path d="M296.67 137.52L297.52 139.68L299.84 139.82L298.05 141.3L298.63 143.55L296.67 142.31L294.71 143.55L295.29 141.3L293.49 139.82L295.81 139.68Z" fill="#ff8000"/>
<path d="M298.33 137.73L299.19 139.89L301.51 140.04L299.71 141.51L300.29 143.76L298.33 142.52L296.37 143.76L296.95 141.51L295.16 140.04L297.48 139.89Z" fill="#ff8000"/>
<path d="M300 137.86L300.85 140.03L303.17 140.17L301.38 141.65L301.96 143.9L300 142.65L298.04 143.9L298.62 141.65L296.83 140.17L299.15 140.03Z" fill="#ff8000"/>
<path d="M301.98 137.98L302.83 140.14L305.15 140.28L303.36 141.76L303.94 144.01L301.98 142.76L300.02 144.01L300.6 141.76L298.81 140.28L301.13 140.14Z" fill="#ff8000"/>
<path d="M304.05 137.94L304.9 140.1L307.22 140.25L305.43 141.73L306.01 143.98L304.05 142.73L302.09 143.98L302.67 141.73L300.88 140.25L303.2 140.1Z" fill="#ff8000"/>
<path d="M306.59 137.64L307.44 139.81L309.76 139.95L307.96 141.43L308.55 143.68L306.59 142.43L304.63 143.68L305.21 141.43L303.41 139.95L305.73 139.81Z" fill="#ff8000"/>
<path d="M309.52 137.09L310.37 139.26L312.69 139.4L310.9 140.88L311.48 143.13L309.52 141.88L307.56 143.13L308.14 140.88L306.35 139.4L308.67 139.26Z" fill="#ff8000"/>
<path d="M312.63 136.57L313.48 138.73L315.8 138.87L314.01 140.35L314.59 142.6L312.63 141.35L310.67 142.6L311.25 140.35L309.46 138.87L311.78 138.73Z" fill="#ff8000"/>
<path d="M316.62 135.97L317.47 138.13L319.79 138.27L318 139.75L318.58 142L316.62 140.75L314.66 142L315.24 139.75L313.44 138.27L315.76 138.13Z" fill="#ff8000"/>
<path d="M320.67 135.65L321.52 137.81L323.84 137.96L322.05 139.44L322.63 141.69L320.67 140.44L318.71 141.69L319.29 139.44L317.49 137.96L319.81 137.81Z" fill="#ff8000"/>
<path d="M324.67 135.85L325.52 138.01L327.84 138.15L326.05 139.63L326.63 141.88L324.67 140.63L322.71 141.88L323.29 139.63L321.49 138.15L323.81 138.01Z" fill="#ff8000"/>
<path d="M328.69 136.23L329.54 138.4L331.86 138.54L330.07 140.02L330.65 142.27L328.69 141.02L326.73 142.27L327.31 140.02L325.52 138.54L327.84 138.4Z" fill="#ff8000"/>
<path d="M333.23 136.79L334.09 138.96L336.41 139.1L334.61 140.58L335.19 142.83L333.23 141.58L331.27 142.83L331.85 140.58L330.06 139.1L332.38 138.96Z" fill="#ff8000"/>
<path d="M345.1 141.06L345.95 143.23L348.27 143.37L346.48 144.85L347.06 147.1L345.1 145.85L343.14 147.1L343.72 144.85L341.93 143.37L344.25 143.23Z" fill="#ff8000"/>
<path d="M347 144.26L347.85 146.43L350.17 146.57L348.38 148.05L348.96 150.3L347 149.05L345.04 150.3L345.62 148.05L343.83 146.57L346.15 146.43Z" fill="#ff8000"/>
<path d="M351.5 141.56L352.35 143.73L354.67 143.87L352.88 145.35L353.46 147.6L351.5 146.35L349.54 147.6L350.12 145.35L348.33 143.87L350.65 143.73Z" fill="#ff8000"/>
<circle cx="243.6" cy="154.8" r="2.6" fill="#f0f"/>
<circle cx="244.25" cy="153.27" r="2.6" fill="#f0f"/>
<circle cx="244.97" cy="151.62" r="2.6" fill="#f0f"/>
<circle cx="245.66" cy="150.18" r="2.6" fill="#f0f"/>
<circle cx="246.44" cy="148.7" r="2.6" fill="#f0f"/>
<circle cx="247.5" cy="147" r="2.6" fill="#f0f"/>
<circle cx="248.81" cy="145.22" r="2.6" fill="#f0f"/>
<circle cx="250.3" cy="143.5" r="2.6" fill="#f0f"/>
<circle cx="252.27" cy="141.7" r="2.6" fill="#f0f"/>
<circle cx="254.43" cy="140.04" r="2.6" fill="#f0f"/>
<circle cx="257.1" cy="138.31" r="2.6" fill="#f0f"/>
<circle cx="259.96" cy="136.71" r="2.6" fill="#f0f"/>
<circle cx="263.34" cy="135.07" r="2.6" fill="#f0f"/>
<circle cx="267.18" cy="133.44" r="2.6" fill="#f0f"/>
<circle cx="271.67" cy="131.68" r="2.6" fill="#f0f"/>
<circle cx="276.59" cy="130.47" r="2.6" fill="#f0f"/>
<circle cx="281.5" cy="130.26" r="2.6" fill="#f0f"/>
<circle cx="285.5" cy="131" r="2.6" fill="#f0f"/>
<circle cx="288.79" cy="131.94" r="2.6" fill="#f0f"/>
<circle cx="291.88" cy="132.99" r="2.6" fill="#f0f"/>
<circle cx="294.26" cy="133.9" r="2.6" fill="#f0f"/>
<circle cx="296.39" cy="134.61" r="2.6" fill="#f0f"/>
<circle cx="298.41" cy="135.01" r="2.6" fill="#f0f"/>
<circle cx="300" cy="135.3" r="2.6" fill="#f0f"/>
<circle cx="301.67" cy="135.7" r="2.6" fill="#f0f"/>
<circle cx="303.33" cy="136.13" r="2.6" fill="#f0f"/>
<circle cx="304.95" cy="136.55" r="2.6" fill="#f0f"/>
<circle cx="306.52" cy="136.97" r="2.6" fill="#f0f"/>
<circle cx="308" cy="137.3" r="2.6" fill="#f0f"/>
<circle cx="309.36" cy="137.55" r="2.6" fill="#f0f"/>
<circle cx="310.88" cy="137.8" r="2.6" fill="#f0f"/>
<circle cx="312.45" cy="138.05" r="2.6" fill="#f0f"/>
<circle cx="313.49" cy="138.22" r="2.6" fill="#f0f"/>
<circle cx="314.5" cy="138.38" r="2.6" fill="#f0f"/>
<circle cx="316" cy="138.63" r="2.6" fill="#f0f"/>
<circle cx="317.5" cy="138.88" r="2.6" fill="#f0f"/>
<circle cx="319" cy="139.13" r="2.6" fill="#f0f"/>
<circle cx="320.5" cy="139.39" r="2.6" fill="#f0f"/>
<circle cx="321.96" cy="139.67" r="2.6" fill="#f0f"/>
<circle cx="323.93" cy="140.05" r="2.6" fill="#f0f"/>
<circle cx="326" cy="140.3" r="2.6" fill="#f0f"/>
<circle cx="329.38" cy="140.34" r="2.6" fill="#f0f"/>
<circle cx="333.63" cy="140.18" r="2.6" fill="#f0f"/>
<circle cx="338.3" cy="139.91" r="2.6" fill="#f0f"/>
<circle cx="343.7" cy="139.74" r="2.6" fill="#f0f"/>
<circle cx="349" cy="139.8" r="2.6" fill="#f0f"/>
<circle cx="353.63" cy="140.22" r="2.6" fill="#f0f"/>
<circle cx="301" cy="137.5" r="2.6" fill="#f0f"/>
<circle cx="303.19" cy="137.99" r="2.6" fill="#f0f"/>
<circle cx="305.11" cy="138.41" r="2.6" fill="#f0f"/>
<circle cx="306.83" cy="138.77" r="2.6" fill="#f0f"/>
<circle cx="308.5" cy="139.12" r="2.6" fill="#f0f"/>
<circle cx="310.17" cy="139.45" r="2.6" fill="#f0f"/>
<circle cx="311.42" cy="139.67" r="2.6" fill="#f0f"/>
<circle cx="312.67" cy="139.9" r="2.6" fill="#f0f"/>
<circle cx="313.92" cy="140.11" r="2.6" fill="#f0f"/>
<circle cx="315.17" cy="140.29" r="2.6" fill="#f0f"/>
<circle cx="316.43" cy="140.45" r="2.6" fill="#f0f"/>
<circle cx="317.85" cy="140.58" r="2.6" fill="#f0f"/>
<circle cx="319.27" cy="140.68" r="2.6" fill="#f0f"/>
<circle cx="320.76" cy="140.78" r="2.6" fill="#f0f"/>
<circle cx="361.5" cy="141.8" r="2.6" fill="#f0f"/>
<circle cx="364.5" cy="142.3" r="2.6" fill="#f0f"/>
<circle cx="367.5" cy="143" r="2.6" fill="#f0f"/>
<circle cx="370.2" cy="144.2" r="2.6" fill="#f0f"/>
<circle cx="362.5" cy="144.8" r="2.6" fill="#f0f"/>
<circle cx="366" cy="145.5" r="2.6" fill="#f0f"/>
<circle cx="369.5" cy="146.2" r="2.6" fill="#f0f"/>
<path d="M259.3 152.8L263.3 156.8M263.3 152.8L259.3 156.8M261.3 153.2L261.3 156.4M259.7 154.8L262.9 154.8" stroke="#800080" stroke-width="1.04" fill="none"/>
<path d="M259.82 151.12L263.82 155.12M263.82 151.12L259.82 155.12M261.82 151.52L261.82 154.72M260.22 153.12L263.42 153.12" stroke="#800080" stroke-width="1.04" fill="none"/>
<path d="M260.39 149.32L264.39 153.32M264.39 149.32L260.39 153.32M262.39 149.72L262.39 152.92M260.79 151.32L263.99 151.32" stroke="#800080" stroke-width="1.04" fill="none"/>
<path d="M261.03 147.52L265.03 151.52M265.03 147.52L261.03 151.52M263.03 147.92L263.03 151.12M261.43 149.52L264.63 149.52" stroke="#800080" stroke-width="1.04" fill="none"/>
<path d="M261.8 145.5L265.8 149.5M265.8 145.5L261.8 149.5M263.8 145.9L263.8 149.1M262.2 147.5L265.4 147.5" stroke="#800080" stroke-width="1.04" fill="none"/>
<path d="M262.66 143.13L266.66 147.13M266.66 143.13L262.66 147.13M264.66 143.53L264.66 146.73M263.06 145.13L266.26 145.13" stroke="#800080" stroke-width="1.04" fill="none"/>
<path d="M263.86 140.95L267.86 144.95M267.86 140.95L263.86 144.95M265.86 141.35L265.86 144.55M264.26 142.95L267.46 142.95" stroke="#800080" stroke-width="1.04" fill="none"/>
<path d="M265.74 138.76L269.74 142.76M269.74 138.76L265.74 142.76M267.74 139.16L267.74 142.36M266.14 140.76L269.34 140.76" stroke="#800080" stroke-width="1.04" fill="none"/>
<path d="M268.32 136.72L272.32 140.72M272.32 136.72L268.32 140.72M270.32 137.12L270.32 140.32M268.72 138.72L271.92 138.72" stroke="#800080" stroke-width="1.04" fill="none"/>
<path d="M271.41 135.11L275.41 139.11M275.41 135.11L271.41 139.11M273.41 135.51L273.41 138.71M271.81 137.11L275.01 137.11" stroke="#800080" stroke-width="1.04" fill="none"/>
<path d="M274.82 133.65L278.82 137.65M278.82 133.65L274.82 137.65M276.82 134.05L276.82 137.25M275.22 135.65L278.42 135.65" stroke="#800080" stroke-width="1.04" fill="none"/>
<path d="M279.46 131.84L283.46 135.84M283.46 131.84L279.46 135.84M281.46 132.24L281.46 135.44M279.86 133.84L283.06 133.84" stroke="#800080" stroke-width="1.04" fill="none"/>
<path d="M284.5 130.32L288.5 134.32M288.5 130.32L284.5 134.32M286.5 130.72L286.5 133.92M284.9 132.32L288.1 132.32" stroke="#800080" stroke-width="1.04" fill="none"/>
<path d="M289.5 129.35L293.5 133.35M293.5 129.35L289.5 133.35M291.5 129.75L291.5 132.95M289.9 131.35L293.1 131.35" stroke="#800080" stroke-width="1.04" fill="none"/>
<path d="M294 129.17L298 133.17M298 129.17L294 133.17M296 129.57L296 132.77M294.4 131.17L297.6 131.17" stroke="#800080" stroke-width="1.04" fill="none"/>
<path d="M298 129.52L302 133.52M302 129.52L298 133.52M300 129.92L300 133.12M298.4 131.52L301.6 131.52" stroke="#800080" stroke-width="1.04" fill="none"/>
<path d="M301 130.02L305 134.02M305 130.02L301 134.02M303 130.42L303 133.62M301.4 132.02L304.6 132.02" stroke="#800080" stroke-width="1.04" fill="none"/>
<path d="M303.5 130.49L307.5 134.49M307.5 130.49L303.5 134.49M305.5 130.89L305.5 134.09M303.9 132.49L307.1 132.49" stroke="#800080" stroke-width="1.04" fill="none"/>
<path d="M306 130.97L310 134.97M310 130.97L306 134.97M308 131.38L308 134.57M306.4 132.97L309.6 132.97" stroke="#800080" stroke-width="1.04" fill="none"/>
<path d="M308 131.39L312 135.39M312 131.39L308 135.39M310 131.79L310 134.99M308.4 133.39L311.6 133.39" stroke="#800080" stroke-width="1.04" fill="none"/>
<path d="M309.5 131.71L313.5 135.71M313.5 131.71L309.5 135.71M311.5 132.11L311.5 135.31M309.9 133.71L313.1 133.71" stroke="#800080" stroke-width="1.04" fill="none"/>
<path d="M311 132.04L315 136.04M315 132.04L311 136.04M313 132.44L313 135.64M311.4 134.04L314.6 134.04" stroke="#800080" stroke-width="1.04" fill="none"/>
<path d="M312.5 132.38L316.5 136.38M316.5 132.38L312.5 136.38M314.5 132.78L314.5 135.98M312.9 134.38L316.1 134.38" stroke="#800080" stroke-width="1.04" fill="none"/>
<path d="M314 132.74L318 136.74M318 132.74L314 136.74M316 133.14L316 136.34M314.4 134.74L317.6 134.74" stroke="#800080" stroke-width="1.04" fill="none"/>
<path d="M315.5 133.14L319.5 137.14M319.5 133.14L315.5 137.14M317.5 133.54L317.5 136.74M315.9 135.14L319.1 135.14" stroke="#800080" stroke-width="1.04" fill="none"/>
<path d="M317 133.57L321 137.57M321 133.57L317 137.57M319 133.97L319 137.17M317.4 135.57L320.6 135.57" stroke="#800080" stroke-width="1.04" fill="none"/>
<path d="M318.5 134.04L322.5 138.04M322.5 134.04L318.5 138.04M320.5 134.44L320.5 137.64M318.9 136.04L322.1 136.04" stroke="#800080" stroke-width="1.04" fill="none"/>
<path d="M320 134.5L324 138.5M324 134.5L320 138.5M322 134.9L322 138.1M320.4 136.5L323.6 136.5" stroke="#800080" stroke-width="1.04" fill="none"/>
<path d="M321.5 134.95L325.5 138.95M325.5 134.95L321.5 138.95M323.5 135.35L323.5 138.55M321.9 136.95L325.1 136.95" stroke="#800080" stroke-width="1.04" fill="none"/>
<path d="M323 135.39L327 139.39M327 135.39L323 139.39M325 135.79L325 138.99M323.4 137.39L326.6 137.39" stroke="#800080" stroke-width="1.04" fill="none"/>
<path d="M324.5 135.83L328.5 139.83M328.5 135.83L324.5 139.83M326.5 136.23L326.5 139.43M324.9 137.83L328.1 137.83" stroke="#800080" stroke-width="1.04" fill="none"/>
<path d="M326 136.24L330 140.24M330 136.24L326 140.24M328 136.64L328 139.84M326.4 138.24L329.6 138.24" stroke="#800080" stroke-width="1.04" fill="none"/>
<path d="M327.5 136.62L331.5 140.62M331.5 136.62L327.5 140.62M329.5 137.02L329.5 140.22M327.9 138.62L331.1 138.62" stroke="#800080" stroke-width="1.04" fill="none"/>
<path d="M329 136.98L333 140.98M333 136.98L329 140.98M331 137.38L331 140.58M329.4 138.98L332.6 138.98" stroke="#800080" stroke-width="1.04" fill="none"/>
<path d="M330.5 137.31L334.5 141.31M334.5 137.31L330.5 141.31M332.5 137.71L332.5 140.91M330.9 139.31L334.1 139.31" stroke="#800080" stroke-width="1.04" fill="none"/>
<path d="M332 137.62L336 141.62M336 137.62L332 141.62M334 138.02L334 141.22M332.4 139.62L335.6 139.62" stroke="#800080" stroke-width="1.04" fill="none"/>
<path d="M333.5 137.89L337.5 141.89M337.5 137.89L333.5 141.89M335.5 138.29L335.5 141.49M333.9 139.89L337.1 139.89" stroke="#800080" stroke-width="1.04" fill="none"/>
<path d="M334.96 138.13L338.96 142.13M338.96 138.13L334.96 142.13M336.96 138.53L336.96 141.73M335.36 140.13L338.56 140.13" stroke="#800080" stroke-width="1.04" fill="none"/>
<path d="M336.43 138.33L340.43 142.33M340.43 138.33L336.43 142.33M338.43 138.73L338.43 141.93M336.83 140.33L340.03 140.33" stroke="#800080" stroke-width="1.04" fill="none"/>
<path d="M337.94 138.51L341.94 142.51M341.94 138.51L337.94 142.51M339.94 138.91L339.94 142.11M338.34 140.51L341.54 140.51" stroke="#800080" stroke-width="1.04" fill="none"/>
<path d="M339.55 138.64L343.55 142.64M343.55 138.64L339.55 142.64M341.55 139.04L341.55 142.24M339.95 140.64L343.15 140.64" stroke="#800080" stroke-width="1.04" fill="none"/>
<path d="M341.22 138.73L345.22 142.73M345.22 138.73L341.22 142.73M343.22 139.13L343.22 142.33M341.62 140.73L344.82 140.73" stroke="#800080" stroke-width="1.04" fill="none"/>
<path d="M343.56 138.79L347.56 142.79M347.56 138.79L343.56 142.79M345.56 139.19L345.56 142.39M343.96 140.79L347.16 140.79" stroke="#800080" stroke-width="1.04" fill="none"/>
<path d="M346 138.8L350 142.8M350 138.8L346 142.8M348 139.2L348 142.4M346.4 140.8L349.6 140.8" stroke="#800080" stroke-width="1.04" fill="none"/>
<path d="M348.59 138.76L352.59 142.76M352.59 138.76L348.59 142.76M350.59 139.16L350.59 142.36M348.99 140.76L352.19 140.76" stroke="#800080" stroke-width="1.04" fill="none"/>
<path d="M351.3 138.68L355.3 142.68M355.3 138.68L351.3 142.68M353.3 139.08L353.3 142.28M351.7 140.68L354.9 140.68" stroke="#800080" stroke-width="1.04" fill="none"/>
<path d="M354 138.6L358 142.6M358 138.6L354 142.6M356 139L356 142.2M354.4 140.6L357.6 140.6" stroke="#800080" stroke-width="1.04" fill="none"/>
<path d="M356.74 138.51L360.74 142.51M360.74 138.51L356.74 142.51M358.74 138.91L358.74 142.11M357.14 140.51L360.34 140.51" stroke="#800080" stroke-width="1.04" fill="none"/>
<path d="M359.48 138.42L363.48 142.42M363.48 138.42L359.48 142.42M361.48 138.82L361.48 142.02M359.88 140.42L363.08 140.42" stroke="#800080" stroke-width="1.04" fill="none"/>
<path d="M362 138.4L366 142.4M366 138.4L362 142.4M364 138.8L364 142M362.4 140.4L365.6 140.4" stroke="#800080" stroke-width="1.04" fill="none"/>
<path d="M364.37 138.5L368.37 142.5M368.37 138.5L364.37 142.5M366.37 138.9L366.37 142.1M364.77 140.5L367.97 140.5" stroke="#800080" stroke-width="1.04" fill="none"/>
<path d="M366.97 138.71L370.97 142.71M370.97 138.71L366.97 142.71M368.97 139.11L368.97 142.31M367.37 140.71L370.57 140.71" stroke="#800080" stroke-width="1.04" fill="none"/>
<path d="M371.5 139L375.5 143M375.5 139L371.5 143M373.5 139.4L373.5 142.6M371.9 141L375.1 141" stroke="#800080" stroke-width="1.04" fill="none"/>
<path d="M374 140.5L378 144.5M378 140.5L374 144.5M376 140.9L376 144.1M374.4 142.5L377.6 142.5" stroke="#800080" stroke-width="1.04" fill="none"/>
<path d="M377 139.5L381 143.5M381 139.5L377 143.5M379 139.9L379 143.1M377.4 141.5L380.6 141.5" stroke="#800080" stroke-width="1.04" fill="none"/>
<path d="M379.5 141.5L383.5 145.5M383.5 141.5L379.5 145.5M381.5 141.9L381.5 145.1M379.9 143.5L383.1 143.5" stroke="#800080" stroke-width="1.04" fill="none"/>
<path d="M376 143.5L380 147.5M380 143.5L376 147.5M378 143.9L378 147.1M376.4 145.5L379.6 145.5" stroke="#800080" stroke-width="1.04" fill="none"/>
<path d="M373.5 142L377.5 146M377.5 142L373.5 146M375.5 142.4L375.5 145.6M373.9 144L377.1 144" stroke="#800080" stroke-width="1.04" fill="none"/>
<path d="M378 145.5L382 149.5M382 145.5L378 149.5M380 145.9L380 149.1M378.4 147.5L381.6 147.5" stroke="#800080" stroke-width="1.04" fill="none"/>
<path d="M381 147L385 151M385 147L381 151M383 147.4L383 150.6M381.4 149L384.6 149" stroke="#800080" stroke-width="1.04" fill="none"/>
<path d="M379 149.5L383 153.5M383 149.5L379 153.5M381 149.9L381 153.1M379.4 151.5L382.6 151.5" stroke="#800080" stroke-width="1.04" fill="none"/>
<path d="M382 150.5L386 154.5M386 150.5L382 154.5M384 150.9L384 154.1M382.4 152.5L385.6 152.5" stroke="#800080" stroke-width="1.04" fill="none"/>
<path d="M384.5 152.2L388.5 156.2M388.5 152.2L384.5 156.2M386.5 152.6L386.5 155.8M384.9 154.2L388.1 154.2" stroke="#800080" stroke-width="1.04" fill="none"/>
<path d="M381.5 152.5L385.5 156.5M385.5 152.5L381.5 156.5M383.5 152.9L383.5 156.1M381.9 154.5L385.1 154.5" stroke="#800080" stroke-width="1.04" fill="none"/>
<rect x="263.15" y="153.35" width="2.9" height="2.9" fill="#fff" stroke="#000" stroke-width="1.5"/>
<rect x="263.87" y="150.88" width="2.9" height="2.9" fill="#fff" stroke="#000" stroke-width="1.5"/>
<rect x="264.86" y="148.36" width="2.9" height="2.9" fill="#fff" stroke="#000" stroke-width="1.5"/>
<rect x="266.19" y="145.75" width="2.9" height="2.9" fill="#fff" stroke="#000" stroke-width="1.5"/>
<rect x="267.84" y="143.12" width="2.9" height="2.9" fill="#fff" stroke="#000" stroke-width="1.5"/>
<rect x="269.96" y="140.45" width="2.9" height="2.9" fill="#fff" stroke="#000" stroke-width="1.5"/>
<rect x="272.43" y="138.01" width="2.9" height="2.9" fill="#fff" stroke="#000" stroke-width="1.5"/>
<rect x="275.32" y="135.64" width="2.9" height="2.9" fill="#fff" stroke="#000" stroke-width="1.5"/>
<rect x="278.89" y="133.13" width="2.9" height="2.9" fill="#fff" stroke="#000" stroke-width="1.5"/>
<rect x="283.05" y="130.75" width="2.9" height="2.9" fill="#fff" stroke="#000" stroke-width="1.5"/>
<rect x="288.05" y="128.75" width="2.9" height="2.9" fill="#fff" stroke="#000" stroke-width="1.5"/>
<rect x="293.42" y="127.95" width="2.9" height="2.9" fill="#fff" stroke="#000" stroke-width="1.5"/>
<rect x="299.21" y="127.77" width="2.9" height="2.9" fill="#fff" stroke="#000" stroke-width="1.5"/>
<rect x="304.76" y="128.48" width="2.9" height="2.9" fill="#fff" stroke="#000" stroke-width="1.5"/>
<rect x="310.3" y="129.64" width="2.9" height="2.9" fill="#fff" stroke="#000" stroke-width="1.5"/>
<rect x="315.09" y="130.78" width="2.9" height="2.9" fill="#fff" stroke="#000" stroke-width="1.5"/>
<rect x="319.15" y="131.95" width="2.9" height="2.9" fill="#fff" stroke="#000" stroke-width="1.5"/>
<rect x="322.65" y="134.05" width="2.9" height="2.9" fill="#fff" stroke="#000" stroke-width="1.5"/>
<rect x="325.72" y="136.26" width="2.9" height="2.9" fill="#fff" stroke="#000" stroke-width="1.5"/>
<rect x="329.53" y="137.05" width="2.9" height="2.9" fill="#fff" stroke="#000" stroke-width="1.5"/>
<rect x="333.03" y="138.43" width="2.9" height="2.9" fill="#fff" stroke="#000" stroke-width="1.5"/>
<rect x="336.73" y="138.9" width="2.9" height="2.9" fill="#fff" stroke="#000" stroke-width="1.5"/>
<rect x="340.55" y="138.05" width="2.9" height="2.9" fill="#fff" stroke="#000" stroke-width="1.5"/>
<rect x="343.97" y="137.11" width="2.9" height="2.9" fill="#fff" stroke="#000" stroke-width="1.5"/>
<rect x="347.56" y="136.04" width="2.9" height="2.9" fill="#fff" stroke="#000" stroke-width="1.5"/>
<rect x="351.12" y="134.92" width="2.9" height="2.9" fill="#fff" stroke="#000" stroke-width="1.5"/>
<rect x="354.7" y="134.19" width="2.9" height="2.9" fill="#fff" stroke="#000" stroke-width="1.5"/>
<rect x="358.38" y="133.89" width="2.9" height="2.9" fill="#fff" stroke="#000" stroke-width="1.5"/>
<rect x="362.13" y="133.74" width="2.9" height="2.9" fill="#fff" stroke="#000" stroke-width="1.5"/>
<rect x="365.81" y="133.98" width="2.9" height="2.9" fill="#fff" stroke="#000" stroke-width="1.5"/>
<rect x="369.48" y="134.28" width="2.9" height="2.9" fill="#fff" stroke="#000" stroke-width="1.5"/>
<rect x="373.05" y="134.65" width="2.9" height="2.9" fill="#fff" stroke="#000" stroke-width="1.5"/>
<rect x="376.61" y="135.66" width="2.9" height="2.9" fill="#fff" stroke="#000" stroke-width="1.5"/>
<rect x="379.55" y="136.75" width="2.9" height="2.9" fill="#fff" stroke="#000" stroke-width="1.5"/>
<rect x="382.62" y="137.96" width="2.9" height="2.9" fill="#fff" stroke="#000" stroke-width="1.5"/>
<rect x="385.56" y="139.39" width="2.9" height="2.9" fill="#fff" stroke="#000" stroke-width="1.5"/>
<rect x="387.81" y="140.86" width="2.9" height="2.9" fill="#fff" stroke="#000" stroke-width="1.5"/>
<rect x="389.69" y="142.56" width="2.9" height="2.9" fill="#fff" stroke="#000" stroke-width="1.5"/>
<rect x="391.18" y="144.61" width="2.9" height="2.9" fill="#fff" stroke="#000" stroke-width="1.5"/>
<rect x="392.35" y="146.9" width="2.9" height="2.9" fill="#fff" stroke="#000" stroke-width="1.5"/>
<circle cx="267.9" cy="153.6" r="1.75" fill="#fff" stroke="#f00" stroke-width="1.3"/>
<circle cx="269.1" cy="151.3" r="1.75" fill="#fff" stroke="#f00" stroke-width="1.3"/>
<circle cx="270.2" cy="148.9" r="1.75" fill="#fff" stroke="#f00" stroke-width="1.3"/>
<circle cx="271.4" cy="146.9" r="1.75" fill="#fff" stroke="#f00" stroke-width="1.3"/>
<circle cx="273.2" cy="144.8" r="1.75" fill="#fff" stroke="#f00" stroke-width="1.3"/>
<circle cx="275" cy="143.1" r="1.75" fill="#fff" stroke="#f00" stroke-width="1.3"/>
<circle cx="276.7" cy="141.3" r="1.75" fill="#fff" stroke="#f00" stroke-width="1.3"/>
<circle cx="279.1" cy="139.5" r="1.75" fill="#fff" stroke="#f00" stroke-width="1.3"/>
<circle cx="281.4" cy="137.8" r="1.75" fill="#fff" stroke="#f00" stroke-width="1.3"/>
<circle cx="283.2" cy="136" r="1.75" fill="#fff" stroke="#f00" stroke-width="1.3"/>
<circle cx="286.1" cy="134.2" r="1.75" fill="#fff" stroke="#f00" stroke-width="1.3"/>
<circle cx="289" cy="132.5" r="1.75" fill="#fff" stroke="#f00" stroke-width="1.3"/>
<circle cx="291.5" cy="131.2" r="1.75" fill="#fff" stroke="#f00" stroke-width="1.3"/>
<circle cx="295.7" cy="129.9" r="1.75" fill="#fff" stroke="#f00" stroke-width="1.3"/>
<circle cx="300.6" cy="128.6" r="1.75" fill="#fff" stroke="#f00" stroke-width="1.3"/>
<circle cx="305.5" cy="128.3" r="1.75" fill="#fff" stroke="#f00" stroke-width="1.3"/>
<circle cx="310.5" cy="128.6" r="1.75" fill="#fff" stroke="#f00" stroke-width="1.3"/>
<circle cx="315.5" cy="129.5" r="1.75" fill="#fff" stroke="#f00" stroke-width="1.3"/>
<circle cx="320.5" cy="130.3" r="1.75" fill="#fff" stroke="#f00" stroke-width="1.3"/>
<circle cx="324.5" cy="131" r="1.75" fill="#fff" stroke="#f00" stroke-width="1.3"/>
<circle cx="328.3" cy="132" r="1.75" fill="#fff" stroke="#f00" stroke-width="1.3"/>
<circle cx="333.2" cy="134.1" r="1.75" fill="#fff" stroke="#f00" stroke-width="1.3"/>
<circle cx="337.8" cy="136.4" r="1.75" fill="#fff" stroke="#f00" stroke-width="1.3"/>
<circle cx="342.6" cy="138.3" r="1.75" fill="#fff" stroke="#f00" stroke-width="1.3"/>
<circle cx="346.5" cy="139.3" r="1.75" fill="#fff" stroke="#f00" stroke-width="1.3"/>
<circle cx="350.5" cy="139.8" r="1.75" fill="#fff" stroke="#f00" stroke-width="1.3"/>
<circle cx="354.5" cy="139.6" r="1.75" fill="#fff" stroke="#f00" stroke-width="1.3"/>
<circle cx="358.5" cy="139.2" r="1.75" fill="#fff" stroke="#f00" stroke-width="1.3"/>
<circle cx="362.5" cy="138.8" r="1.75" fill="#fff" stroke="#f00" stroke-width="1.3"/>
<circle cx="366.5" cy="138.7" r="1.75" fill="#fff" stroke="#f00" stroke-width="1.3"/>
<circle cx="370.5" cy="139" r="1.75" fill="#fff" stroke="#f00" stroke-width="1.3"/>
<circle cx="374" cy="139.5" r="1.75" fill="#fff" stroke="#f00" stroke-width="1.3"/>
<circle cx="377.5" cy="140" r="1.75" fill="#fff" stroke="#f00" stroke-width="1.3"/>
<circle cx="381" cy="140.2" r="1.75" fill="#fff" stroke="#f00" stroke-width="1.3"/>
<circle cx="384.9" cy="140.8" r="1.75" fill="#fff" stroke="#f00" stroke-width="1.3"/>
<circle cx="388.1" cy="142.4" r="1.75" fill="#fff" stroke="#f00" stroke-width="1.3"/>
<circle cx="390.7" cy="144.5" r="1.75" fill="#fff" stroke="#f00" stroke-width="1.3"/>
<circle cx="392.3" cy="147.1" r="1.75" fill="#fff" stroke="#f00" stroke-width="1.3"/>
<circle cx="393.9" cy="149.8" r="1.75" fill="#fff" stroke="#f00" stroke-width="1.3"/>
<path d="M275.5 152.33L277.97 156.49L273.03 156.49Z" fill="#fff" stroke="#008000" stroke-width="1.2"/>
<path d="M276.95 149.55L279.42 153.71L274.48 153.71Z" fill="#fff" stroke="#008000" stroke-width="1.2"/>
<path d="M278.47 146.76L280.94 150.92L276 150.92Z" fill="#fff" stroke="#008000" stroke-width="1.2"/>
<path d="M280.08 144.15L282.55 148.31L277.61 148.31Z" fill="#fff" stroke="#008000" stroke-width="1.2"/>
<path d="M282 141.53L284.47 145.69L279.53 145.69Z" fill="#fff" stroke="#008000" stroke-width="1.2"/>
<path d="M284.47 138.85L286.94 143.01L282 143.01Z" fill="#fff" stroke="#008000" stroke-width="1.2"/>
<path d="M287.28 136.32L289.75 140.48L284.81 140.48Z" fill="#fff" stroke="#008000" stroke-width="1.2"/>
<path d="M290.44 133.82L292.91 137.98L287.97 137.98Z" fill="#fff" stroke="#008000" stroke-width="1.2"/>
<path d="M293.93 131.37L296.4 135.53L291.46 135.53Z" fill="#fff" stroke="#008000" stroke-width="1.2"/>
<path d="M298.29 128.88L300.76 133.04L295.82 133.04Z" fill="#fff" stroke="#008000" stroke-width="1.2"/>
<path d="M302.98 126.83L305.45 130.99L300.51 130.99Z" fill="#fff" stroke="#008000" stroke-width="1.2"/>
<path d="M308.5 124.83L310.97 128.99L306.03 128.99Z" fill="#fff" stroke="#008000" stroke-width="1.2"/>
<path d="M314 124.14L316.47 128.3L311.53 128.3Z" fill="#fff" stroke="#008000" stroke-width="1.2"/>
<path d="M319.51 124.55L321.98 128.71L317.04 128.71Z" fill="#fff" stroke="#008000" stroke-width="1.2"/>
<path d="M324.95 125.99L327.42 130.15L322.48 130.15Z" fill="#fff" stroke="#008000" stroke-width="1.2"/>
<path d="M330.15 127.49L332.62 131.65L327.68 131.65Z" fill="#fff" stroke="#008000" stroke-width="1.2"/>
<path d="M334.78 128.86L337.25 133.02L332.31 133.02Z" fill="#fff" stroke="#008000" stroke-width="1.2"/>
<path d="M339.26 130.34L341.73 134.5L336.79 134.5Z" fill="#fff" stroke="#008000" stroke-width="1.2"/>
<path d="M343.37 131.97L345.84 136.13L340.9 136.13Z" fill="#fff" stroke="#008000" stroke-width="1.2"/>
<path d="M347.22 133.91L349.69 138.07L344.75 138.07Z" fill="#fff" stroke="#008000" stroke-width="1.2"/>
<path d="M350.74 135.93L353.21 140.09L348.27 140.09Z" fill="#fff" stroke="#008000" stroke-width="1.2"/>
<path d="M355 136.33L357.47 140.49L352.53 140.49Z" fill="#fff" stroke="#008000" stroke-width="1.2"/>
<path d="M359.16 135.72L361.63 139.88L356.69 139.88Z" fill="#fff" stroke="#008000" stroke-width="1.2"/>
<path d="M363.33 134.54L365.8 138.7L360.86 138.7Z" fill="#fff" stroke="#008000" stroke-width="1.2"/>
<path d="M367.5 133.36L369.97 137.52L365.03 137.52Z" fill="#fff" stroke="#008000" stroke-width="1.2"/>
<path d="M372.44 132.09L374.91 136.25L369.97 136.25Z" fill="#fff" stroke="#008000" stroke-width="1.2"/>
<path d="M377.43 131.17L379.9 135.33L374.96 135.33Z" fill="#fff" stroke="#008000" stroke-width="1.2"/>
<path d="M382.5 130.75L384.97 134.91L380.03 134.91Z" fill="#fff" stroke="#008000" stroke-width="1.2"/>
<path d="M387.5 130.75L389.97 134.91L385.03 134.91Z" fill="#fff" stroke="#008000" stroke-width="1.2"/>
<path d="M392.55 131.23L395.02 135.39L390.08 135.39Z" fill="#fff" stroke="#008000" stroke-width="1.2"/>
<path d="M397.03 133.1L399.5 137.26L394.56 137.26Z" fill="#fff" stroke="#008000" stroke-width="1.2"/>
<path d="M401 135.33L403.47 139.49L398.53 139.49Z" fill="#fff" stroke="#008000" stroke-width="1.2"/>
<path d="M404.2 135.43L406.67 139.59L401.73 139.59Z" fill="#fff" stroke="#008000" stroke-width="1.2"/>
<path d="M410 139.33L412.47 143.49L407.53 143.49Z" fill="#fff" stroke="#008000" stroke-width="1.2"/>
<path d="M413.9 143.83L416.37 147.99L411.43 147.99Z" fill="#fff" stroke="#008000" stroke-width="1.2"/>
<path d="M279.1 151.8L281.53 154.5L279.1 157.2L276.67 154.5Z" fill="#fff" stroke="#00f" stroke-width="1.4"/>
<path d="M280.4 149.6L282.83 152.3L280.4 155L277.97 152.3Z" fill="#fff" stroke="#00f" stroke-width="1.4"/>
<path d="M282.2 147.3L284.63 150L282.2 152.7L279.77 150Z" fill="#fff" stroke="#00f" stroke-width="1.4"/>
<path d="M284.2 144.4L286.63 147.1L284.2 149.8L281.77 147.1Z" fill="#fff" stroke="#00f" stroke-width="1.4"/>
<path d="M285.9 142.1L288.33 144.8L285.9 147.5L283.47 144.8Z" fill="#fff" stroke="#00f" stroke-width="1.4"/>
<path d="M287.7 139.8L290.13 142.5L287.7 145.2L285.27 142.5Z" fill="#fff" stroke="#00f" stroke-width="1.4"/>
<path d="M289.5 137.6L291.93 140.3L289.5 143L287.07 140.3Z" fill="#fff" stroke="#00f" stroke-width="1.4"/>
<path d="M291.7 135.5L294.13 138.2L291.7 140.9L289.27 138.2Z" fill="#fff" stroke="#00f" stroke-width="1.4"/>
<path d="M293.8 133.7L296.23 136.4L293.8 139.1L291.37 136.4Z" fill="#fff" stroke="#00f" stroke-width="1.4"/>
<path d="M296 132.1L298.43 134.8L296 137.5L293.57 134.8Z" fill="#fff" stroke="#00f" stroke-width="1.4"/>
<path d="M298.6 130.3L301.03 133L298.6 135.7L296.17 133Z" fill="#fff" stroke="#00f" stroke-width="1.4"/>
<path d="M300.8 128.9L303.23 131.6L300.8 134.3L298.37 131.6Z" fill="#fff" stroke="#00f" stroke-width="1.4"/>
<path d="M303.6 127.5L306.03 130.2L303.6 132.9L301.17 130.2Z" fill="#fff" stroke="#00f" stroke-width="1.4"/>
<path d="M306.6 126.4L309.03 129.1L306.6 131.8L304.17 129.1Z" fill="#fff" stroke="#00f" stroke-width="1.4"/>
<path d="M311.4 126.4L313.83 129.1L311.4 131.8L308.97 129.1Z" fill="#fff" stroke="#00f" stroke-width="1.4"/>
<path d="M318.5 124.5L320.93 127.2L318.5 129.9L316.07 127.2Z" fill="#fff" stroke="#00f" stroke-width="1.4"/>
<path d="M325.5 123.8L327.93 126.5L325.5 129.2L323.07 126.5Z" fill="#fff" stroke="#00f" stroke-width="1.4"/>
<path d="M333.2 125.2L335.63 127.9L333.2 130.6L330.77 127.9Z" fill="#fff" stroke="#00f" stroke-width="1.4"/>
<path d="M339.1 127.4L341.53 130.1L339.1 132.8L336.67 130.1Z" fill="#fff" stroke="#00f" stroke-width="1.4"/>
<path d="M343.3 128.9L345.73 131.6L343.3 134.3L340.87 131.6Z" fill="#fff" stroke="#00f" stroke-width="1.4"/>
<path d="M346.9 130.4L349.33 133.1L346.9 135.8L344.47 133.1Z" fill="#fff" stroke="#00f" stroke-width="1.4"/>
<path d="M350.4 132.8L352.83 135.5L350.4 138.2L347.97 135.5Z" fill="#fff" stroke="#00f" stroke-width="1.4"/>
<path d="M353.9 134.8L356.33 137.5L353.9 140.2L351.47 137.5Z" fill="#fff" stroke="#00f" stroke-width="1.4"/>
<path d="M357 135.6L359.43 138.3L357 141L354.57 138.3Z" fill="#fff" stroke="#00f" stroke-width="1.4"/>
<path d="M360.3 135.8L362.73 138.5L360.3 141.2L357.87 138.5Z" fill="#fff" stroke="#00f" stroke-width="1.4"/>
<path d="M363.5 135.8L365.93 138.5L363.5 141.2L361.07 138.5Z" fill="#fff" stroke="#00f" stroke-width="1.4"/>
<path d="M366.8 135.7L369.23 138.4L366.8 141.1L364.37 138.4Z" fill="#fff" stroke="#00f" stroke-width="1.4"/>
<path d="M370.3 135.3L372.73 138L370.3 140.7L367.87 138Z" fill="#fff" stroke="#00f" stroke-width="1.4"/>
<path d="M373.9 134.8L376.33 137.5L373.9 140.2L371.47 137.5Z" fill="#fff" stroke="#00f" stroke-width="1.4"/>
<path d="M377.4 134.3L379.83 137L377.4 139.7L374.97 137Z" fill="#fff" stroke="#00f" stroke-width="1.4"/>
<path d="M380.9 133.1L383.33 135.8L380.9 138.5L378.47 135.8Z" fill="#fff" stroke="#00f" stroke-width="1.4"/>
<path d="M385.1 132.4L387.53 135.1L385.1 137.8L382.67 135.1Z" fill="#fff" stroke="#00f" stroke-width="1.4"/>
<path d="M389.4 131.7L391.83 134.4L389.4 137.1L386.97 134.4Z" fill="#fff" stroke="#00f" stroke-width="1.4"/>
<path d="M393.5 131.1L395.93 133.8L393.5 136.5L391.07 133.8Z" fill="#fff" stroke="#00f" stroke-width="1.4"/>
<path d="M397.3 133.2L399.73 135.9L397.3 138.6L394.87 135.9Z" fill="#fff" stroke="#00f" stroke-width="1.4"/>
<path d="M402 131.9L404.43 134.6L402 137.3L399.57 134.6Z" fill="#fff" stroke="#00f" stroke-width="1.4"/>
<path d="M408.3 135.1L410.73 137.8L408.3 140.5L405.87 137.8Z" fill="#fff" stroke="#00f" stroke-width="1.4"/>
<path d="M412.5 136L414.93 138.7L412.5 141.4L410.07 138.7Z" fill="#fff" stroke="#00f" stroke-width="1.4"/>
<path d="M414.8 138.1L417.23 140.8L414.8 143.5L412.37 140.8Z" fill="#fff" stroke="#00f" stroke-width="1.4"/>
<path d="M418.2 138.8L420.63 141.5L418.2 144.2L415.77 141.5Z" fill="#fff" stroke="#00f" stroke-width="1.4"/>
<path d="M420.5 142.1L422.93 144.8L420.5 147.5L418.07 144.8Z" fill="#fff" stroke="#00f" stroke-width="1.4"/>
<path d="M424.5 143.2L426.93 145.9L424.5 148.6L422.07 145.9Z" fill="#fff" stroke="#00f" stroke-width="1.4"/>
<text x="79.4" y="132.8" font-size="20" text-anchor="start" letter-spacing="0.7">(A)</text>
<text transform="translate(249.8,247.1) scale(1.1,1.1)" font-size="20">Z</text>
<text x="262.7" y="255.1" font-size="11">re</text>
<text transform="translate(279.4,247.2) scale(1,1.08)" font-size="20">(Ω</text>
<text transform="translate(306.9,247.2) scale(1,1.08)" font-size="20">*cm</text>
<text x="344.6" y="237.6" font-size="10">2</text>
<text transform="translate(351.1,247.2) scale(1,1.08)" font-size="20">)</text>
<g transform="translate(27.3,212.6) rotate(-90)"><text x="0" y="0" font-size="20">-Z<tspan font-size="11" dy="6.5">im</tspan><tspan dy="-6.5" dx="6.6">(Ω *cm</tspan><tspan font-size="9.5" dy="-10.3" dx="1">2</tspan><tspan dy="10.3" dx="1">)</tspan></text></g>
<rect x="447.6" y="9.7" width="81.9" height="184.4" fill="#fff" stroke="#555" stroke-width="1.1"/>
<rect x="461.95" y="16.85" width="4.3" height="4.3" fill="#000"/>
<text transform="translate(482.3,23.8) scale(1,1.06)" font-size="13" text-anchor="start" >t=0 h</text>
<circle cx="464.1" cy="35.58" r="2.65" fill="#f00"/>
<text transform="translate(482.3,40.38) scale(1,1.06)" font-size="13" text-anchor="start" >t=4 h</text>
<path d="M464.1 49.38L467.02 54.15L461.19 54.15Z" fill="#008000"/>
<text transform="translate(482.3,56.96) scale(1,1.06)" font-size="13" text-anchor="start" >t=24 h</text>
<path d="M464.1 65.75L467.09 68.74L464.1 71.73L461.11 68.74Z" fill="#00f"/>
<text transform="translate(482.3,73.54) scale(1,1.06)" font-size="13" text-anchor="start" >t=48 h</text>
<path d="M464.1 82.5L464.82 84.33L466.78 84.45L465.27 85.7L465.76 87.6L464.1 86.54L462.44 87.6L462.93 85.7L461.42 84.45L463.38 84.33Z" fill="#ff8000"/>
<text transform="translate(482.3,90.12) scale(1,1.06)" font-size="13" text-anchor="start" >t=72 h</text>
<circle cx="464.1" cy="101.9" r="2.65" fill="#f0f"/>
<text transform="translate(482.3,106.7) scale(1,1.06)" font-size="13" text-anchor="start" >t=96 h</text>
<path d="M461.6 115.98L466.6 120.98M466.6 115.98L461.6 120.98M464.1 116.48L464.1 120.48M462.1 118.48L466.1 118.48" stroke="#800080" stroke-width="1.3" fill="none"/>
<text transform="translate(482.3,123.28) scale(1,1.06)" font-size="13" text-anchor="start" >t=120 h</text>
<rect x="462.6" y="133.56" width="3" height="3" fill="#fff" stroke="#000" stroke-width="1.5"/>
<text transform="translate(482.3,139.86) scale(1,1.06)" font-size="13" text-anchor="start" >t=144 h</text>
<circle cx="464.1" cy="151.64" r="2" fill="#fff" stroke="#f00" stroke-width="1.3"/>
<text transform="translate(482.3,156.44) scale(1,1.06)" font-size="13" text-anchor="start" >t=168 h</text>
<path d="M464.1 165.37L466.95 170.17L461.25 170.17Z" fill="#fff" stroke="#008000" stroke-width="1.2"/>
<text transform="translate(482.3,173.02) scale(1,1.06)" font-size="13" text-anchor="start" >t=240 h</text>
<path d="M464.1 181.8L466.8 184.8L464.1 187.8L461.4 184.8Z" fill="#fff" stroke="#00f" stroke-width="1.4"/>
<text transform="translate(482.3,189.6) scale(1,1.06)" font-size="13" text-anchor="start" >t=264 h</text>
</svg>
</body></html>
